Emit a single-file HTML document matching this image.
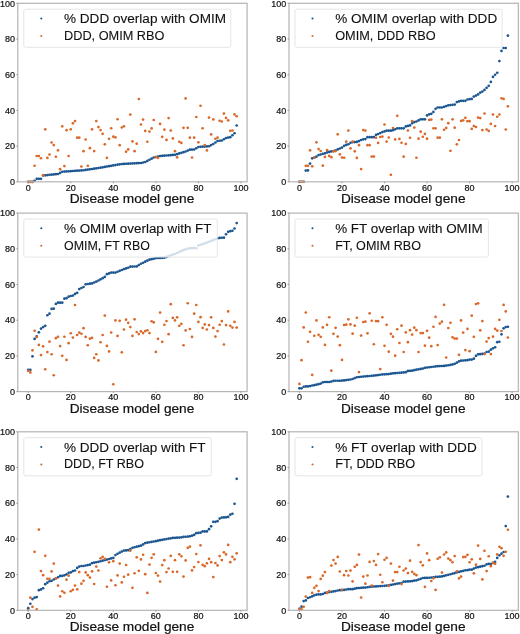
<!DOCTYPE html>
<html><head><meta charset="utf-8"><style>html,body{margin:0;padding:0;background:#fff;overflow:hidden}svg{display:block;filter:blur(0.25px)}</style></head><body>
<svg width="520" height="634" viewBox="0 0 520 634">
<rect width="520" height="634" fill="#fff"/>
<circle cx="28.22" cy="181.80" r="1.35" fill="#1b5690"/>
<circle cx="30.35" cy="181.80" r="1.35" fill="#1b5690"/>
<circle cx="32.48" cy="181.80" r="1.35" fill="#1b5690"/>
<circle cx="34.60" cy="180.75" r="1.35" fill="#1b5690"/>
<circle cx="36.73" cy="178.80" r="1.35" fill="#1b5690"/>
<circle cx="38.86" cy="178.80" r="1.35" fill="#1b5690"/>
<circle cx="40.99" cy="178.80" r="1.35" fill="#1b5690"/>
<circle cx="43.11" cy="175.50" r="1.35" fill="#1b5690"/>
<circle cx="45.24" cy="175.28" r="1.35" fill="#1b5690"/>
<circle cx="47.37" cy="175.07" r="1.35" fill="#1b5690"/>
<circle cx="49.49" cy="174.86" r="1.35" fill="#1b5690"/>
<circle cx="51.62" cy="174.64" r="1.35" fill="#1b5690"/>
<circle cx="53.75" cy="174.43" r="1.35" fill="#1b5690"/>
<circle cx="55.87" cy="174.21" r="1.35" fill="#1b5690"/>
<circle cx="58.00" cy="174.00" r="1.35" fill="#1b5690"/>
<circle cx="60.13" cy="172.88" r="1.35" fill="#1b5690"/>
<circle cx="62.26" cy="171.75" r="1.35" fill="#1b5690"/>
<circle cx="64.38" cy="171.61" r="1.35" fill="#1b5690"/>
<circle cx="66.51" cy="171.45" r="1.35" fill="#1b5690"/>
<circle cx="68.64" cy="171.30" r="1.35" fill="#1b5690"/>
<circle cx="70.76" cy="171.14" r="1.35" fill="#1b5690"/>
<circle cx="72.89" cy="171.00" r="1.35" fill="#1b5690"/>
<circle cx="75.02" cy="170.86" r="1.35" fill="#1b5690"/>
<circle cx="77.15" cy="170.70" r="1.35" fill="#1b5690"/>
<circle cx="79.27" cy="170.55" r="1.35" fill="#1b5690"/>
<circle cx="81.40" cy="170.39" r="1.35" fill="#1b5690"/>
<circle cx="83.53" cy="170.25" r="1.35" fill="#1b5690"/>
<circle cx="85.65" cy="169.93" r="1.35" fill="#1b5690"/>
<circle cx="87.78" cy="169.61" r="1.35" fill="#1b5690"/>
<circle cx="89.91" cy="169.29" r="1.35" fill="#1b5690"/>
<circle cx="92.04" cy="168.98" r="1.35" fill="#1b5690"/>
<circle cx="94.16" cy="168.66" r="1.35" fill="#1b5690"/>
<circle cx="96.29" cy="168.34" r="1.35" fill="#1b5690"/>
<circle cx="98.42" cy="168.02" r="1.35" fill="#1b5690"/>
<circle cx="100.54" cy="167.70" r="1.35" fill="#1b5690"/>
<circle cx="102.67" cy="167.31" r="1.35" fill="#1b5690"/>
<circle cx="104.80" cy="166.90" r="1.35" fill="#1b5690"/>
<circle cx="106.92" cy="166.50" r="1.35" fill="#1b5690"/>
<circle cx="109.05" cy="166.15" r="1.35" fill="#1b5690"/>
<circle cx="111.18" cy="165.79" r="1.35" fill="#1b5690"/>
<circle cx="113.31" cy="165.43" r="1.35" fill="#1b5690"/>
<circle cx="115.43" cy="165.07" r="1.35" fill="#1b5690"/>
<circle cx="117.56" cy="164.72" r="1.35" fill="#1b5690"/>
<circle cx="119.69" cy="164.36" r="1.35" fill="#1b5690"/>
<circle cx="121.81" cy="164.00" r="1.35" fill="#1b5690"/>
<circle cx="123.94" cy="163.90" r="1.35" fill="#1b5690"/>
<circle cx="126.07" cy="163.77" r="1.35" fill="#1b5690"/>
<circle cx="128.20" cy="163.66" r="1.35" fill="#1b5690"/>
<circle cx="130.32" cy="163.56" r="1.35" fill="#1b5690"/>
<circle cx="132.45" cy="163.45" r="1.35" fill="#1b5690"/>
<circle cx="134.58" cy="163.33" r="1.35" fill="#1b5690"/>
<circle cx="136.70" cy="163.22" r="1.35" fill="#1b5690"/>
<circle cx="138.83" cy="163.11" r="1.35" fill="#1b5690"/>
<circle cx="140.96" cy="163.00" r="1.35" fill="#1b5690"/>
<circle cx="143.09" cy="162.50" r="1.35" fill="#1b5690"/>
<circle cx="145.21" cy="162.00" r="1.35" fill="#1b5690"/>
<circle cx="147.34" cy="160.88" r="1.35" fill="#1b5690"/>
<circle cx="149.47" cy="159.76" r="1.35" fill="#1b5690"/>
<circle cx="151.59" cy="158.63" r="1.35" fill="#1b5690"/>
<circle cx="153.72" cy="157.51" r="1.35" fill="#1b5690"/>
<circle cx="155.85" cy="157.01" r="1.35" fill="#1b5690"/>
<circle cx="157.98" cy="156.51" r="1.35" fill="#1b5690"/>
<circle cx="160.10" cy="156.01" r="1.35" fill="#1b5690"/>
<circle cx="162.23" cy="155.83" r="1.35" fill="#1b5690"/>
<circle cx="164.36" cy="155.65" r="1.35" fill="#1b5690"/>
<circle cx="166.48" cy="155.49" r="1.35" fill="#1b5690"/>
<circle cx="168.61" cy="155.31" r="1.35" fill="#1b5690"/>
<circle cx="170.74" cy="155.15" r="1.35" fill="#1b5690"/>
<circle cx="172.86" cy="154.97" r="1.35" fill="#1b5690"/>
<circle cx="174.99" cy="154.79" r="1.35" fill="#1b5690"/>
<circle cx="177.12" cy="154.13" r="1.35" fill="#1b5690"/>
<circle cx="179.25" cy="153.47" r="1.35" fill="#1b5690"/>
<circle cx="181.37" cy="152.81" r="1.35" fill="#1b5690"/>
<circle cx="183.50" cy="152.15" r="1.35" fill="#1b5690"/>
<circle cx="185.63" cy="151.51" r="1.35" fill="#1b5690"/>
<circle cx="187.75" cy="150.60" r="1.35" fill="#1b5690"/>
<circle cx="189.88" cy="149.71" r="1.35" fill="#1b5690"/>
<circle cx="192.01" cy="149.60" r="1.35" fill="#1b5690"/>
<circle cx="194.14" cy="149.49" r="1.35" fill="#1b5690"/>
<circle cx="196.26" cy="148.24" r="1.35" fill="#1b5690"/>
<circle cx="198.39" cy="146.99" r="1.35" fill="#1b5690"/>
<circle cx="200.52" cy="146.85" r="1.35" fill="#1b5690"/>
<circle cx="202.64" cy="146.71" r="1.35" fill="#1b5690"/>
<circle cx="204.77" cy="146.55" r="1.35" fill="#1b5690"/>
<circle cx="206.90" cy="146.40" r="1.35" fill="#1b5690"/>
<circle cx="209.03" cy="146.24" r="1.35" fill="#1b5690"/>
<circle cx="211.15" cy="145.12" r="1.35" fill="#1b5690"/>
<circle cx="213.28" cy="143.99" r="1.35" fill="#1b5690"/>
<circle cx="215.41" cy="142.49" r="1.35" fill="#1b5690"/>
<circle cx="217.53" cy="140.99" r="1.35" fill="#1b5690"/>
<circle cx="219.66" cy="140.75" r="1.35" fill="#1b5690"/>
<circle cx="221.79" cy="140.50" r="1.35" fill="#1b5690"/>
<circle cx="223.91" cy="139.25" r="1.35" fill="#1b5690"/>
<circle cx="226.04" cy="138.00" r="1.35" fill="#1b5690"/>
<circle cx="228.17" cy="137.60" r="1.35" fill="#1b5690"/>
<circle cx="230.30" cy="137.19" r="1.35" fill="#1b5690"/>
<circle cx="232.42" cy="135.23" r="1.35" fill="#1b5690"/>
<circle cx="234.55" cy="133.25" r="1.35" fill="#1b5690"/>
<circle cx="236.68" cy="125.50" r="1.35" fill="#1b5690"/>
<circle cx="28.22" cy="181.80" r="1.35" fill="#d9692a"/>
<circle cx="30.35" cy="181.80" r="1.35" fill="#d9692a"/>
<circle cx="32.48" cy="181.80" r="1.35" fill="#d9692a"/>
<circle cx="34.60" cy="165.75" r="1.35" fill="#d9692a"/>
<circle cx="36.73" cy="156.01" r="1.35" fill="#d9692a"/>
<circle cx="38.86" cy="156.01" r="1.35" fill="#d9692a"/>
<circle cx="40.99" cy="158.26" r="1.35" fill="#d9692a"/>
<circle cx="43.11" cy="175.20" r="1.35" fill="#d9692a"/>
<circle cx="45.24" cy="129.30" r="1.35" fill="#d9692a"/>
<circle cx="47.37" cy="157.95" r="1.35" fill="#d9692a"/>
<circle cx="49.49" cy="154.51" r="1.35" fill="#d9692a"/>
<circle cx="51.62" cy="142.49" r="1.35" fill="#d9692a"/>
<circle cx="53.75" cy="145.05" r="1.35" fill="#d9692a"/>
<circle cx="55.87" cy="156.76" r="1.35" fill="#d9692a"/>
<circle cx="58.00" cy="150.29" r="1.35" fill="#d9692a"/>
<circle cx="60.13" cy="169.20" r="1.35" fill="#d9692a"/>
<circle cx="62.26" cy="126.30" r="1.35" fill="#d9692a"/>
<circle cx="64.38" cy="166.06" r="1.35" fill="#d9692a"/>
<circle cx="66.51" cy="130.20" r="1.35" fill="#d9692a"/>
<circle cx="68.64" cy="156.01" r="1.35" fill="#d9692a"/>
<circle cx="70.76" cy="129.30" r="1.35" fill="#d9692a"/>
<circle cx="72.89" cy="123.31" r="1.35" fill="#d9692a"/>
<circle cx="75.02" cy="121.06" r="1.35" fill="#d9692a"/>
<circle cx="77.15" cy="137.69" r="1.35" fill="#d9692a"/>
<circle cx="79.27" cy="137.69" r="1.35" fill="#d9692a"/>
<circle cx="81.40" cy="166.50" r="1.35" fill="#d9692a"/>
<circle cx="83.53" cy="151.21" r="1.35" fill="#d9692a"/>
<circle cx="85.65" cy="139.50" r="1.35" fill="#d9692a"/>
<circle cx="87.78" cy="165.75" r="1.35" fill="#d9692a"/>
<circle cx="89.91" cy="148.21" r="1.35" fill="#d9692a"/>
<circle cx="92.04" cy="129.30" r="1.35" fill="#d9692a"/>
<circle cx="94.16" cy="151.04" r="1.35" fill="#d9692a"/>
<circle cx="96.29" cy="121.06" r="1.35" fill="#d9692a"/>
<circle cx="98.42" cy="127.05" r="1.35" fill="#d9692a"/>
<circle cx="100.54" cy="130.05" r="1.35" fill="#d9692a"/>
<circle cx="102.67" cy="133.80" r="1.35" fill="#d9692a"/>
<circle cx="104.80" cy="144.30" r="1.35" fill="#d9692a"/>
<circle cx="106.92" cy="157.79" r="1.35" fill="#d9692a"/>
<circle cx="109.05" cy="138.75" r="1.35" fill="#d9692a"/>
<circle cx="111.18" cy="128.25" r="1.35" fill="#d9692a"/>
<circle cx="113.31" cy="136.66" r="1.35" fill="#d9692a"/>
<circle cx="115.43" cy="137.41" r="1.35" fill="#d9692a"/>
<circle cx="117.56" cy="119.25" r="1.35" fill="#d9692a"/>
<circle cx="119.69" cy="145.21" r="1.35" fill="#d9692a"/>
<circle cx="121.81" cy="127.50" r="1.35" fill="#d9692a"/>
<circle cx="123.94" cy="126.30" r="1.35" fill="#d9692a"/>
<circle cx="126.07" cy="151.65" r="1.35" fill="#d9692a"/>
<circle cx="128.20" cy="149.40" r="1.35" fill="#d9692a"/>
<circle cx="130.32" cy="114.59" r="1.35" fill="#d9692a"/>
<circle cx="132.45" cy="141.44" r="1.35" fill="#d9692a"/>
<circle cx="134.58" cy="151.21" r="1.35" fill="#d9692a"/>
<circle cx="136.70" cy="143.71" r="1.35" fill="#d9692a"/>
<circle cx="138.83" cy="98.99" r="1.35" fill="#d9692a"/>
<circle cx="140.96" cy="124.50" r="1.35" fill="#d9692a"/>
<circle cx="143.09" cy="119.56" r="1.35" fill="#d9692a"/>
<circle cx="145.21" cy="130.95" r="1.35" fill="#d9692a"/>
<circle cx="147.34" cy="141.74" r="1.35" fill="#d9692a"/>
<circle cx="149.47" cy="131.55" r="1.35" fill="#d9692a"/>
<circle cx="151.59" cy="128.39" r="1.35" fill="#d9692a"/>
<circle cx="153.72" cy="120.00" r="1.35" fill="#d9692a"/>
<circle cx="155.85" cy="157.04" r="1.35" fill="#d9692a"/>
<circle cx="157.98" cy="157.79" r="1.35" fill="#d9692a"/>
<circle cx="160.10" cy="123.89" r="1.35" fill="#d9692a"/>
<circle cx="162.23" cy="136.80" r="1.35" fill="#d9692a"/>
<circle cx="164.36" cy="129.61" r="1.35" fill="#d9692a"/>
<circle cx="166.48" cy="139.94" r="1.35" fill="#d9692a"/>
<circle cx="168.61" cy="118.06" r="1.35" fill="#d9692a"/>
<circle cx="170.74" cy="130.50" r="1.35" fill="#d9692a"/>
<circle cx="172.86" cy="138.44" r="1.35" fill="#d9692a"/>
<circle cx="174.99" cy="151.21" r="1.35" fill="#d9692a"/>
<circle cx="177.12" cy="157.35" r="1.35" fill="#d9692a"/>
<circle cx="179.25" cy="141.74" r="1.35" fill="#d9692a"/>
<circle cx="181.37" cy="142.96" r="1.35" fill="#d9692a"/>
<circle cx="183.50" cy="127.80" r="1.35" fill="#d9692a"/>
<circle cx="185.63" cy="98.40" r="1.35" fill="#d9692a"/>
<circle cx="187.75" cy="127.80" r="1.35" fill="#d9692a"/>
<circle cx="189.88" cy="137.69" r="1.35" fill="#d9692a"/>
<circle cx="192.01" cy="157.51" r="1.35" fill="#d9692a"/>
<circle cx="194.14" cy="137.69" r="1.35" fill="#d9692a"/>
<circle cx="196.26" cy="117.00" r="1.35" fill="#d9692a"/>
<circle cx="198.39" cy="142.35" r="1.35" fill="#d9692a"/>
<circle cx="200.52" cy="105.74" r="1.35" fill="#d9692a"/>
<circle cx="202.64" cy="128.25" r="1.35" fill="#d9692a"/>
<circle cx="204.77" cy="145.21" r="1.35" fill="#d9692a"/>
<circle cx="206.90" cy="150.46" r="1.35" fill="#d9692a"/>
<circle cx="209.03" cy="117.59" r="1.35" fill="#d9692a"/>
<circle cx="211.15" cy="134.41" r="1.35" fill="#d9692a"/>
<circle cx="213.28" cy="119.40" r="1.35" fill="#d9692a"/>
<circle cx="215.41" cy="138.75" r="1.35" fill="#d9692a"/>
<circle cx="217.53" cy="137.69" r="1.35" fill="#d9692a"/>
<circle cx="219.66" cy="120.75" r="1.35" fill="#d9692a"/>
<circle cx="221.79" cy="121.50" r="1.35" fill="#d9692a"/>
<circle cx="223.91" cy="113.54" r="1.35" fill="#d9692a"/>
<circle cx="226.04" cy="117.90" r="1.35" fill="#d9692a"/>
<circle cx="228.17" cy="120.31" r="1.35" fill="#d9692a"/>
<circle cx="230.30" cy="130.80" r="1.35" fill="#d9692a"/>
<circle cx="232.42" cy="130.50" r="1.35" fill="#d9692a"/>
<circle cx="234.55" cy="114.45" r="1.35" fill="#d9692a"/>
<circle cx="236.68" cy="116.25" r="1.35" fill="#d9692a"/>
<rect x="17.80" y="3.30" width="229.30" height="178.50" fill="none" stroke="#b4b4b4" stroke-width="1.2"/>
<line x1="16.30" y1="181.80" x2="17.80" y2="181.80" stroke="#888" stroke-width="0.8"/>
<text x="15.00" y="185.00" font-size="9" text-anchor="end" font-family="Liberation Sans, sans-serif" stroke="#111" stroke-width="0.2" fill="#111">0</text>
<line x1="16.30" y1="146.10" x2="17.80" y2="146.10" stroke="#888" stroke-width="0.8"/>
<text x="15.00" y="149.30" font-size="9" text-anchor="end" font-family="Liberation Sans, sans-serif" stroke="#111" stroke-width="0.2" fill="#111">20</text>
<line x1="16.30" y1="110.40" x2="17.80" y2="110.40" stroke="#888" stroke-width="0.8"/>
<text x="15.00" y="113.60" font-size="9" text-anchor="end" font-family="Liberation Sans, sans-serif" stroke="#111" stroke-width="0.2" fill="#111">40</text>
<line x1="16.30" y1="74.70" x2="17.80" y2="74.70" stroke="#888" stroke-width="0.8"/>
<text x="15.00" y="77.90" font-size="9" text-anchor="end" font-family="Liberation Sans, sans-serif" stroke="#111" stroke-width="0.2" fill="#111">60</text>
<line x1="16.30" y1="39.00" x2="17.80" y2="39.00" stroke="#888" stroke-width="0.8"/>
<text x="15.00" y="42.20" font-size="9" text-anchor="end" font-family="Liberation Sans, sans-serif" stroke="#111" stroke-width="0.2" fill="#111">80</text>
<line x1="16.30" y1="3.30" x2="17.80" y2="3.30" stroke="#888" stroke-width="0.8"/>
<text x="15.00" y="6.50" font-size="9" text-anchor="end" font-family="Liberation Sans, sans-serif" stroke="#111" stroke-width="0.2" fill="#111">100</text>
<line x1="28.22" y1="181.80" x2="28.22" y2="183.30" stroke="#888" stroke-width="0.8"/>
<text x="28.22" y="190.60" font-size="9" text-anchor="middle" font-family="Liberation Sans, sans-serif" stroke="#111" stroke-width="0.2" fill="#111">0</text>
<line x1="70.76" y1="181.80" x2="70.76" y2="183.30" stroke="#888" stroke-width="0.8"/>
<text x="70.76" y="190.60" font-size="9" text-anchor="middle" font-family="Liberation Sans, sans-serif" stroke="#111" stroke-width="0.2" fill="#111">20</text>
<line x1="113.31" y1="181.80" x2="113.31" y2="183.30" stroke="#888" stroke-width="0.8"/>
<text x="113.31" y="190.60" font-size="9" text-anchor="middle" font-family="Liberation Sans, sans-serif" stroke="#111" stroke-width="0.2" fill="#111">40</text>
<line x1="155.85" y1="181.80" x2="155.85" y2="183.30" stroke="#888" stroke-width="0.8"/>
<text x="155.85" y="190.60" font-size="9" text-anchor="middle" font-family="Liberation Sans, sans-serif" stroke="#111" stroke-width="0.2" fill="#111">60</text>
<line x1="198.39" y1="181.80" x2="198.39" y2="183.30" stroke="#888" stroke-width="0.8"/>
<text x="198.39" y="190.60" font-size="9" text-anchor="middle" font-family="Liberation Sans, sans-serif" stroke="#111" stroke-width="0.2" fill="#111">80</text>
<line x1="240.93" y1="181.80" x2="240.93" y2="183.30" stroke="#888" stroke-width="0.8"/>
<text x="240.93" y="190.60" font-size="9" text-anchor="middle" font-family="Liberation Sans, sans-serif" stroke="#111" stroke-width="0.2" fill="#111">100</text>
<text x="69.70" y="202.70" font-size="12.8" font-family="Liberation Sans, sans-serif" stroke="#111" stroke-width="0.2" fill="#111" textLength="124.6" lengthAdjust="spacingAndGlyphs">Disease model gene</text>
<rect x="23.80" y="9.20" width="207.00" height="38.10" rx="2" fill="#fff" fill-opacity="0.8" stroke="#e2e2e2" stroke-width="0.9"/>
<circle cx="41.30" cy="18.50" r="1.05" fill="#1b5690"/>
<circle cx="41.30" cy="36.00" r="1.05" fill="#d9692a"/>
<text x="64.00" y="23.00" font-size="12.3" font-family="Liberation Sans, sans-serif" stroke="#111" stroke-width="0.1" fill="#111" textLength="162.0" lengthAdjust="spacingAndGlyphs">% DDD overlap with OMIM</text>
<text x="64.00" y="39.90" font-size="12.3" font-family="Liberation Sans, sans-serif" stroke="#111" stroke-width="0.1" fill="#111" textLength="100.4" lengthAdjust="spacingAndGlyphs">DDD, OMIM RBO</text>
<circle cx="299.42" cy="181.75" r="1.35" fill="#1b5690"/>
<circle cx="301.55" cy="181.75" r="1.35" fill="#1b5690"/>
<circle cx="303.68" cy="181.75" r="1.35" fill="#1b5690"/>
<circle cx="305.80" cy="170.57" r="1.35" fill="#1b5690"/>
<circle cx="307.93" cy="170.39" r="1.35" fill="#1b5690"/>
<circle cx="310.06" cy="163.58" r="1.35" fill="#1b5690"/>
<circle cx="312.19" cy="158.29" r="1.35" fill="#1b5690"/>
<circle cx="314.31" cy="157.63" r="1.35" fill="#1b5690"/>
<circle cx="316.44" cy="156.69" r="1.35" fill="#1b5690"/>
<circle cx="318.57" cy="155.08" r="1.35" fill="#1b5690"/>
<circle cx="320.69" cy="154.51" r="1.35" fill="#1b5690"/>
<circle cx="322.82" cy="153.85" r="1.35" fill="#1b5690"/>
<circle cx="324.95" cy="153.36" r="1.35" fill="#1b5690"/>
<circle cx="327.07" cy="152.42" r="1.35" fill="#1b5690"/>
<circle cx="329.20" cy="151.95" r="1.35" fill="#1b5690"/>
<circle cx="331.33" cy="151.47" r="1.35" fill="#1b5690"/>
<circle cx="333.46" cy="151.10" r="1.35" fill="#1b5690"/>
<circle cx="335.58" cy="150.28" r="1.35" fill="#1b5690"/>
<circle cx="337.71" cy="149.44" r="1.35" fill="#1b5690"/>
<circle cx="339.84" cy="148.49" r="1.35" fill="#1b5690"/>
<circle cx="341.96" cy="147.55" r="1.35" fill="#1b5690"/>
<circle cx="344.09" cy="145.85" r="1.35" fill="#1b5690"/>
<circle cx="346.22" cy="144.90" r="1.35" fill="#1b5690"/>
<circle cx="348.35" cy="144.24" r="1.35" fill="#1b5690"/>
<circle cx="350.47" cy="142.83" r="1.35" fill="#1b5690"/>
<circle cx="352.60" cy="142.16" r="1.35" fill="#1b5690"/>
<circle cx="354.73" cy="142.07" r="1.35" fill="#1b5690"/>
<circle cx="356.85" cy="141.89" r="1.35" fill="#1b5690"/>
<circle cx="358.98" cy="141.12" r="1.35" fill="#1b5690"/>
<circle cx="361.11" cy="140.00" r="1.35" fill="#1b5690"/>
<circle cx="363.24" cy="139.33" r="1.35" fill="#1b5690"/>
<circle cx="365.36" cy="139.05" r="1.35" fill="#1b5690"/>
<circle cx="367.49" cy="137.16" r="1.35" fill="#1b5690"/>
<circle cx="369.62" cy="137.16" r="1.35" fill="#1b5690"/>
<circle cx="371.74" cy="137.16" r="1.35" fill="#1b5690"/>
<circle cx="373.87" cy="137.16" r="1.35" fill="#1b5690"/>
<circle cx="376.00" cy="134.93" r="1.35" fill="#1b5690"/>
<circle cx="378.12" cy="133.98" r="1.35" fill="#1b5690"/>
<circle cx="380.25" cy="133.03" r="1.35" fill="#1b5690"/>
<circle cx="382.38" cy="132.09" r="1.35" fill="#1b5690"/>
<circle cx="384.51" cy="131.43" r="1.35" fill="#1b5690"/>
<circle cx="386.63" cy="130.66" r="1.35" fill="#1b5690"/>
<circle cx="388.76" cy="130.66" r="1.35" fill="#1b5690"/>
<circle cx="390.89" cy="130.66" r="1.35" fill="#1b5690"/>
<circle cx="393.01" cy="130.20" r="1.35" fill="#1b5690"/>
<circle cx="395.14" cy="129.25" r="1.35" fill="#1b5690"/>
<circle cx="397.27" cy="128.30" r="1.35" fill="#1b5690"/>
<circle cx="399.40" cy="128.30" r="1.35" fill="#1b5690"/>
<circle cx="401.52" cy="128.30" r="1.35" fill="#1b5690"/>
<circle cx="403.65" cy="128.30" r="1.35" fill="#1b5690"/>
<circle cx="405.78" cy="126.41" r="1.35" fill="#1b5690"/>
<circle cx="407.90" cy="125.93" r="1.35" fill="#1b5690"/>
<circle cx="410.03" cy="125.47" r="1.35" fill="#1b5690"/>
<circle cx="412.16" cy="123.14" r="1.35" fill="#1b5690"/>
<circle cx="414.29" cy="122.07" r="1.35" fill="#1b5690"/>
<circle cx="416.41" cy="121.52" r="1.35" fill="#1b5690"/>
<circle cx="418.54" cy="120.41" r="1.35" fill="#1b5690"/>
<circle cx="420.67" cy="119.31" r="1.35" fill="#1b5690"/>
<circle cx="422.79" cy="119.31" r="1.35" fill="#1b5690"/>
<circle cx="424.92" cy="119.31" r="1.35" fill="#1b5690"/>
<circle cx="427.05" cy="115.43" r="1.35" fill="#1b5690"/>
<circle cx="429.18" cy="114.34" r="1.35" fill="#1b5690"/>
<circle cx="431.30" cy="113.79" r="1.35" fill="#1b5690"/>
<circle cx="433.43" cy="111.90" r="1.35" fill="#1b5690"/>
<circle cx="435.56" cy="108.81" r="1.35" fill="#1b5690"/>
<circle cx="437.68" cy="107.49" r="1.35" fill="#1b5690"/>
<circle cx="439.81" cy="107.49" r="1.35" fill="#1b5690"/>
<circle cx="441.94" cy="107.49" r="1.35" fill="#1b5690"/>
<circle cx="444.06" cy="106.78" r="1.35" fill="#1b5690"/>
<circle cx="446.19" cy="106.04" r="1.35" fill="#1b5690"/>
<circle cx="448.32" cy="105.28" r="1.35" fill="#1b5690"/>
<circle cx="450.45" cy="105.10" r="1.35" fill="#1b5690"/>
<circle cx="452.57" cy="104.83" r="1.35" fill="#1b5690"/>
<circle cx="454.70" cy="104.56" r="1.35" fill="#1b5690"/>
<circle cx="456.83" cy="102.03" r="1.35" fill="#1b5690"/>
<circle cx="458.95" cy="101.40" r="1.35" fill="#1b5690"/>
<circle cx="461.08" cy="100.78" r="1.35" fill="#1b5690"/>
<circle cx="463.21" cy="100.78" r="1.35" fill="#1b5690"/>
<circle cx="465.34" cy="100.78" r="1.35" fill="#1b5690"/>
<circle cx="467.46" cy="99.51" r="1.35" fill="#1b5690"/>
<circle cx="469.59" cy="99.19" r="1.35" fill="#1b5690"/>
<circle cx="471.72" cy="98.89" r="1.35" fill="#1b5690"/>
<circle cx="473.84" cy="96.60" r="1.35" fill="#1b5690"/>
<circle cx="475.97" cy="95.53" r="1.35" fill="#1b5690"/>
<circle cx="478.10" cy="94.46" r="1.35" fill="#1b5690"/>
<circle cx="480.23" cy="92.57" r="1.35" fill="#1b5690"/>
<circle cx="482.35" cy="91.53" r="1.35" fill="#1b5690"/>
<circle cx="484.48" cy="89.89" r="1.35" fill="#1b5690"/>
<circle cx="486.61" cy="87.84" r="1.35" fill="#1b5690"/>
<circle cx="488.73" cy="85.80" r="1.35" fill="#1b5690"/>
<circle cx="490.86" cy="81.89" r="1.35" fill="#1b5690"/>
<circle cx="492.99" cy="76.97" r="1.35" fill="#1b5690"/>
<circle cx="495.11" cy="74.75" r="1.35" fill="#1b5690"/>
<circle cx="497.24" cy="72.77" r="1.35" fill="#1b5690"/>
<circle cx="499.37" cy="61.03" r="1.35" fill="#1b5690"/>
<circle cx="501.50" cy="50.92" r="1.35" fill="#1b5690"/>
<circle cx="503.62" cy="48.00" r="1.35" fill="#1b5690"/>
<circle cx="505.75" cy="48.00" r="1.35" fill="#1b5690"/>
<circle cx="507.88" cy="35.68" r="1.35" fill="#1b5690"/>
<circle cx="299.42" cy="181.75" r="1.35" fill="#d9692a"/>
<circle cx="301.55" cy="181.75" r="1.35" fill="#d9692a"/>
<circle cx="303.68" cy="181.75" r="1.35" fill="#d9692a"/>
<circle cx="305.80" cy="165.86" r="1.35" fill="#d9692a"/>
<circle cx="307.93" cy="165.86" r="1.35" fill="#d9692a"/>
<circle cx="310.06" cy="150.35" r="1.35" fill="#d9692a"/>
<circle cx="312.19" cy="166.32" r="1.35" fill="#d9692a"/>
<circle cx="314.31" cy="157.63" r="1.35" fill="#d9692a"/>
<circle cx="316.44" cy="142.30" r="1.35" fill="#d9692a"/>
<circle cx="318.57" cy="149.12" r="1.35" fill="#d9692a"/>
<circle cx="320.69" cy="151.01" r="1.35" fill="#d9692a"/>
<circle cx="322.82" cy="165.66" r="1.35" fill="#d9692a"/>
<circle cx="324.95" cy="156.97" r="1.35" fill="#d9692a"/>
<circle cx="327.07" cy="150.06" r="1.35" fill="#d9692a"/>
<circle cx="329.20" cy="155.92" r="1.35" fill="#d9692a"/>
<circle cx="331.33" cy="157.15" r="1.35" fill="#d9692a"/>
<circle cx="333.46" cy="151.29" r="1.35" fill="#d9692a"/>
<circle cx="335.58" cy="151.04" r="1.35" fill="#d9692a"/>
<circle cx="337.71" cy="134.32" r="1.35" fill="#d9692a"/>
<circle cx="339.84" cy="154.36" r="1.35" fill="#d9692a"/>
<circle cx="341.96" cy="157.49" r="1.35" fill="#d9692a"/>
<circle cx="344.09" cy="157.77" r="1.35" fill="#d9692a"/>
<circle cx="346.22" cy="141.69" r="1.35" fill="#d9692a"/>
<circle cx="348.35" cy="130.53" r="1.35" fill="#d9692a"/>
<circle cx="350.47" cy="148.31" r="1.35" fill="#d9692a"/>
<circle cx="352.60" cy="141.69" r="1.35" fill="#d9692a"/>
<circle cx="354.73" cy="151.33" r="1.35" fill="#d9692a"/>
<circle cx="356.85" cy="157.95" r="1.35" fill="#d9692a"/>
<circle cx="358.98" cy="145.19" r="1.35" fill="#d9692a"/>
<circle cx="361.11" cy="169.07" r="1.35" fill="#d9692a"/>
<circle cx="363.24" cy="130.05" r="1.35" fill="#d9692a"/>
<circle cx="365.36" cy="130.53" r="1.35" fill="#d9692a"/>
<circle cx="367.49" cy="145.19" r="1.35" fill="#d9692a"/>
<circle cx="369.62" cy="145.19" r="1.35" fill="#d9692a"/>
<circle cx="371.74" cy="156.54" r="1.35" fill="#d9692a"/>
<circle cx="373.87" cy="156.54" r="1.35" fill="#d9692a"/>
<circle cx="376.00" cy="137.75" r="1.35" fill="#d9692a"/>
<circle cx="378.12" cy="142.96" r="1.35" fill="#d9692a"/>
<circle cx="380.25" cy="137.00" r="1.35" fill="#d9692a"/>
<circle cx="382.38" cy="136.62" r="1.35" fill="#d9692a"/>
<circle cx="384.51" cy="124.52" r="1.35" fill="#d9692a"/>
<circle cx="386.63" cy="141.53" r="1.35" fill="#d9692a"/>
<circle cx="388.76" cy="137.48" r="1.35" fill="#d9692a"/>
<circle cx="390.89" cy="174.78" r="1.35" fill="#d9692a"/>
<circle cx="393.01" cy="128.02" r="1.35" fill="#d9692a"/>
<circle cx="395.14" cy="139.46" r="1.35" fill="#d9692a"/>
<circle cx="397.27" cy="115.81" r="1.35" fill="#d9692a"/>
<circle cx="399.40" cy="138.89" r="1.35" fill="#d9692a"/>
<circle cx="401.52" cy="142.76" r="1.35" fill="#d9692a"/>
<circle cx="403.65" cy="156.65" r="1.35" fill="#d9692a"/>
<circle cx="405.78" cy="143.90" r="1.35" fill="#d9692a"/>
<circle cx="407.90" cy="130.48" r="1.35" fill="#d9692a"/>
<circle cx="410.03" cy="137.75" r="1.35" fill="#d9692a"/>
<circle cx="412.16" cy="121.20" r="1.35" fill="#d9692a"/>
<circle cx="414.29" cy="127.59" r="1.35" fill="#d9692a"/>
<circle cx="416.41" cy="157.76" r="1.35" fill="#d9692a"/>
<circle cx="418.54" cy="138.64" r="1.35" fill="#d9692a"/>
<circle cx="420.67" cy="131.68" r="1.35" fill="#d9692a"/>
<circle cx="422.79" cy="136.76" r="1.35" fill="#d9692a"/>
<circle cx="424.92" cy="133.89" r="1.35" fill="#d9692a"/>
<circle cx="427.05" cy="138.64" r="1.35" fill="#d9692a"/>
<circle cx="429.18" cy="119.97" r="1.35" fill="#d9692a"/>
<circle cx="431.30" cy="119.54" r="1.35" fill="#d9692a"/>
<circle cx="433.43" cy="128.37" r="1.35" fill="#d9692a"/>
<circle cx="435.56" cy="128.37" r="1.35" fill="#d9692a"/>
<circle cx="437.68" cy="137.66" r="1.35" fill="#d9692a"/>
<circle cx="439.81" cy="137.66" r="1.35" fill="#d9692a"/>
<circle cx="441.94" cy="119.31" r="1.35" fill="#d9692a"/>
<circle cx="444.06" cy="129.80" r="1.35" fill="#d9692a"/>
<circle cx="446.19" cy="127.93" r="1.35" fill="#d9692a"/>
<circle cx="448.32" cy="123.18" r="1.35" fill="#d9692a"/>
<circle cx="450.45" cy="150.79" r="1.35" fill="#d9692a"/>
<circle cx="452.57" cy="119.33" r="1.35" fill="#d9692a"/>
<circle cx="454.70" cy="127.64" r="1.35" fill="#d9692a"/>
<circle cx="456.83" cy="144.30" r="1.35" fill="#d9692a"/>
<circle cx="458.95" cy="140.01" r="1.35" fill="#d9692a"/>
<circle cx="461.08" cy="120.97" r="1.35" fill="#d9692a"/>
<circle cx="463.21" cy="120.32" r="1.35" fill="#d9692a"/>
<circle cx="465.34" cy="117.81" r="1.35" fill="#d9692a"/>
<circle cx="467.46" cy="121.22" r="1.35" fill="#d9692a"/>
<circle cx="469.59" cy="121.22" r="1.35" fill="#d9692a"/>
<circle cx="471.72" cy="128.91" r="1.35" fill="#d9692a"/>
<circle cx="473.84" cy="126.00" r="1.35" fill="#d9692a"/>
<circle cx="475.97" cy="127.02" r="1.35" fill="#d9692a"/>
<circle cx="478.10" cy="117.56" r="1.35" fill="#d9692a"/>
<circle cx="480.23" cy="118.06" r="1.35" fill="#d9692a"/>
<circle cx="482.35" cy="130.11" r="1.35" fill="#d9692a"/>
<circle cx="484.48" cy="113.49" r="1.35" fill="#d9692a"/>
<circle cx="486.61" cy="129.48" r="1.35" fill="#d9692a"/>
<circle cx="488.73" cy="130.93" r="1.35" fill="#d9692a"/>
<circle cx="490.86" cy="123.95" r="1.35" fill="#d9692a"/>
<circle cx="492.99" cy="114.51" r="1.35" fill="#d9692a"/>
<circle cx="495.11" cy="126.00" r="1.35" fill="#d9692a"/>
<circle cx="497.24" cy="116.77" r="1.35" fill="#d9692a"/>
<circle cx="499.37" cy="114.51" r="1.35" fill="#d9692a"/>
<circle cx="501.50" cy="98.32" r="1.35" fill="#d9692a"/>
<circle cx="503.62" cy="98.92" r="1.35" fill="#d9692a"/>
<circle cx="505.75" cy="129.48" r="1.35" fill="#d9692a"/>
<circle cx="507.88" cy="106.31" r="1.35" fill="#d9692a"/>
<rect x="289.00" y="3.30" width="229.30" height="178.50" fill="none" stroke="#b4b4b4" stroke-width="1.2"/>
<line x1="287.50" y1="181.80" x2="289.00" y2="181.80" stroke="#888" stroke-width="0.8"/>
<text x="286.20" y="185.00" font-size="9" text-anchor="end" font-family="Liberation Sans, sans-serif" stroke="#111" stroke-width="0.2" fill="#111">0</text>
<line x1="287.50" y1="146.10" x2="289.00" y2="146.10" stroke="#888" stroke-width="0.8"/>
<text x="286.20" y="149.30" font-size="9" text-anchor="end" font-family="Liberation Sans, sans-serif" stroke="#111" stroke-width="0.2" fill="#111">20</text>
<line x1="287.50" y1="110.40" x2="289.00" y2="110.40" stroke="#888" stroke-width="0.8"/>
<text x="286.20" y="113.60" font-size="9" text-anchor="end" font-family="Liberation Sans, sans-serif" stroke="#111" stroke-width="0.2" fill="#111">40</text>
<line x1="287.50" y1="74.70" x2="289.00" y2="74.70" stroke="#888" stroke-width="0.8"/>
<text x="286.20" y="77.90" font-size="9" text-anchor="end" font-family="Liberation Sans, sans-serif" stroke="#111" stroke-width="0.2" fill="#111">60</text>
<line x1="287.50" y1="39.00" x2="289.00" y2="39.00" stroke="#888" stroke-width="0.8"/>
<text x="286.20" y="42.20" font-size="9" text-anchor="end" font-family="Liberation Sans, sans-serif" stroke="#111" stroke-width="0.2" fill="#111">80</text>
<line x1="287.50" y1="3.30" x2="289.00" y2="3.30" stroke="#888" stroke-width="0.8"/>
<text x="286.20" y="6.50" font-size="9" text-anchor="end" font-family="Liberation Sans, sans-serif" stroke="#111" stroke-width="0.2" fill="#111">100</text>
<line x1="299.42" y1="181.80" x2="299.42" y2="183.30" stroke="#888" stroke-width="0.8"/>
<text x="299.42" y="190.60" font-size="9" text-anchor="middle" font-family="Liberation Sans, sans-serif" stroke="#111" stroke-width="0.2" fill="#111">0</text>
<line x1="341.96" y1="181.80" x2="341.96" y2="183.30" stroke="#888" stroke-width="0.8"/>
<text x="341.96" y="190.60" font-size="9" text-anchor="middle" font-family="Liberation Sans, sans-serif" stroke="#111" stroke-width="0.2" fill="#111">20</text>
<line x1="384.51" y1="181.80" x2="384.51" y2="183.30" stroke="#888" stroke-width="0.8"/>
<text x="384.51" y="190.60" font-size="9" text-anchor="middle" font-family="Liberation Sans, sans-serif" stroke="#111" stroke-width="0.2" fill="#111">40</text>
<line x1="427.05" y1="181.80" x2="427.05" y2="183.30" stroke="#888" stroke-width="0.8"/>
<text x="427.05" y="190.60" font-size="9" text-anchor="middle" font-family="Liberation Sans, sans-serif" stroke="#111" stroke-width="0.2" fill="#111">60</text>
<line x1="469.59" y1="181.80" x2="469.59" y2="183.30" stroke="#888" stroke-width="0.8"/>
<text x="469.59" y="190.60" font-size="9" text-anchor="middle" font-family="Liberation Sans, sans-serif" stroke="#111" stroke-width="0.2" fill="#111">80</text>
<line x1="512.13" y1="181.80" x2="512.13" y2="183.30" stroke="#888" stroke-width="0.8"/>
<text x="512.13" y="190.60" font-size="9" text-anchor="middle" font-family="Liberation Sans, sans-serif" stroke="#111" stroke-width="0.2" fill="#111">100</text>
<text x="340.90" y="202.70" font-size="12.8" font-family="Liberation Sans, sans-serif" stroke="#111" stroke-width="0.2" fill="#111" textLength="124.6" lengthAdjust="spacingAndGlyphs">Disease model gene</text>
<rect x="295.00" y="9.20" width="207.10" height="38.10" rx="2" fill="#fff" fill-opacity="0.8" stroke="#e2e2e2" stroke-width="0.9"/>
<circle cx="312.50" cy="18.50" r="1.05" fill="#1b5690"/>
<circle cx="312.50" cy="36.00" r="1.05" fill="#d9692a"/>
<text x="335.20" y="23.00" font-size="12.3" font-family="Liberation Sans, sans-serif" stroke="#111" stroke-width="0.1" fill="#111" textLength="162.0" lengthAdjust="spacingAndGlyphs">% OMIM overlap with DDD</text>
<text x="335.20" y="39.90" font-size="12.3" font-family="Liberation Sans, sans-serif" stroke="#111" stroke-width="0.1" fill="#111" textLength="100.4" lengthAdjust="spacingAndGlyphs">OMIM, DDD RBO</text>
<circle cx="28.22" cy="369.73" r="1.35" fill="#1b5690"/>
<circle cx="30.35" cy="369.73" r="1.35" fill="#1b5690"/>
<circle cx="32.48" cy="356.31" r="1.35" fill="#1b5690"/>
<circle cx="34.60" cy="338.94" r="1.35" fill="#1b5690"/>
<circle cx="36.73" cy="336.43" r="1.35" fill="#1b5690"/>
<circle cx="38.86" cy="332.32" r="1.35" fill="#1b5690"/>
<circle cx="40.99" cy="328.68" r="1.35" fill="#1b5690"/>
<circle cx="43.11" cy="327.11" r="1.35" fill="#1b5690"/>
<circle cx="45.24" cy="325.84" r="1.35" fill="#1b5690"/>
<circle cx="47.37" cy="315.26" r="1.35" fill="#1b5690"/>
<circle cx="49.49" cy="313.68" r="1.35" fill="#1b5690"/>
<circle cx="51.62" cy="308.95" r="1.35" fill="#1b5690"/>
<circle cx="53.75" cy="308.63" r="1.35" fill="#1b5690"/>
<circle cx="55.87" cy="303.90" r="1.35" fill="#1b5690"/>
<circle cx="58.00" cy="302.64" r="1.35" fill="#1b5690"/>
<circle cx="60.13" cy="302.64" r="1.35" fill="#1b5690"/>
<circle cx="62.26" cy="302.64" r="1.35" fill="#1b5690"/>
<circle cx="64.38" cy="298.69" r="1.35" fill="#1b5690"/>
<circle cx="66.51" cy="298.21" r="1.35" fill="#1b5690"/>
<circle cx="68.64" cy="296.64" r="1.35" fill="#1b5690"/>
<circle cx="70.76" cy="296.00" r="1.35" fill="#1b5690"/>
<circle cx="72.89" cy="295.53" r="1.35" fill="#1b5690"/>
<circle cx="75.02" cy="293.94" r="1.35" fill="#1b5690"/>
<circle cx="77.15" cy="292.84" r="1.35" fill="#1b5690"/>
<circle cx="79.27" cy="289.03" r="1.35" fill="#1b5690"/>
<circle cx="81.40" cy="288.02" r="1.35" fill="#1b5690"/>
<circle cx="83.53" cy="287.02" r="1.35" fill="#1b5690"/>
<circle cx="85.65" cy="284.32" r="1.35" fill="#1b5690"/>
<circle cx="87.78" cy="284.00" r="1.35" fill="#1b5690"/>
<circle cx="89.91" cy="283.70" r="1.35" fill="#1b5690"/>
<circle cx="92.04" cy="283.38" r="1.35" fill="#1b5690"/>
<circle cx="94.16" cy="282.50" r="1.35" fill="#1b5690"/>
<circle cx="96.29" cy="281.63" r="1.35" fill="#1b5690"/>
<circle cx="98.42" cy="280.48" r="1.35" fill="#1b5690"/>
<circle cx="100.54" cy="279.34" r="1.35" fill="#1b5690"/>
<circle cx="102.67" cy="278.13" r="1.35" fill="#1b5690"/>
<circle cx="104.80" cy="276.91" r="1.35" fill="#1b5690"/>
<circle cx="106.92" cy="274.22" r="1.35" fill="#1b5690"/>
<circle cx="109.05" cy="273.42" r="1.35" fill="#1b5690"/>
<circle cx="111.18" cy="272.61" r="1.35" fill="#1b5690"/>
<circle cx="113.31" cy="272.61" r="1.35" fill="#1b5690"/>
<circle cx="115.43" cy="272.61" r="1.35" fill="#1b5690"/>
<circle cx="117.56" cy="271.74" r="1.35" fill="#1b5690"/>
<circle cx="119.69" cy="270.86" r="1.35" fill="#1b5690"/>
<circle cx="121.81" cy="269.99" r="1.35" fill="#1b5690"/>
<circle cx="123.94" cy="269.11" r="1.35" fill="#1b5690"/>
<circle cx="126.07" cy="268.44" r="1.35" fill="#1b5690"/>
<circle cx="128.20" cy="267.77" r="1.35" fill="#1b5690"/>
<circle cx="130.32" cy="266.63" r="1.35" fill="#1b5690"/>
<circle cx="132.45" cy="266.56" r="1.35" fill="#1b5690"/>
<circle cx="134.58" cy="266.51" r="1.35" fill="#1b5690"/>
<circle cx="136.70" cy="266.44" r="1.35" fill="#1b5690"/>
<circle cx="138.83" cy="265.08" r="1.35" fill="#1b5690"/>
<circle cx="140.96" cy="263.74" r="1.35" fill="#1b5690"/>
<circle cx="143.09" cy="262.74" r="1.35" fill="#1b5690"/>
<circle cx="145.21" cy="261.72" r="1.35" fill="#1b5690"/>
<circle cx="147.34" cy="260.71" r="1.35" fill="#1b5690"/>
<circle cx="149.47" cy="259.71" r="1.35" fill="#1b5690"/>
<circle cx="151.59" cy="259.17" r="1.35" fill="#1b5690"/>
<circle cx="153.72" cy="258.64" r="1.35" fill="#1b5690"/>
<circle cx="155.85" cy="258.08" r="1.35" fill="#1b5690"/>
<circle cx="157.98" cy="257.99" r="1.35" fill="#1b5690"/>
<circle cx="160.10" cy="257.89" r="1.35" fill="#1b5690"/>
<circle cx="162.23" cy="257.78" r="1.35" fill="#1b5690"/>
<circle cx="164.36" cy="257.69" r="1.35" fill="#1b5690"/>
<circle cx="166.48" cy="256.89" r="1.35" fill="#1b5690"/>
<circle cx="168.61" cy="256.06" r="1.35" fill="#1b5690"/>
<circle cx="170.74" cy="255.30" r="1.35" fill="#1b5690"/>
<circle cx="172.86" cy="254.53" r="1.35" fill="#1b5690"/>
<circle cx="174.99" cy="253.74" r="1.35" fill="#1b5690"/>
<circle cx="177.12" cy="252.98" r="1.35" fill="#1b5690"/>
<circle cx="179.25" cy="251.96" r="1.35" fill="#1b5690"/>
<circle cx="181.37" cy="250.96" r="1.35" fill="#1b5690"/>
<circle cx="183.50" cy="250.16" r="1.35" fill="#1b5690"/>
<circle cx="185.63" cy="249.34" r="1.35" fill="#1b5690"/>
<circle cx="187.75" cy="248.53" r="1.35" fill="#1b5690"/>
<circle cx="189.88" cy="248.35" r="1.35" fill="#1b5690"/>
<circle cx="192.01" cy="248.18" r="1.35" fill="#1b5690"/>
<circle cx="194.14" cy="248.00" r="1.35" fill="#1b5690"/>
<circle cx="196.26" cy="248.26" r="1.35" fill="#1b5690"/>
<circle cx="198.39" cy="245.57" r="1.35" fill="#1b5690"/>
<circle cx="200.52" cy="244.84" r="1.35" fill="#1b5690"/>
<circle cx="202.64" cy="244.09" r="1.35" fill="#1b5690"/>
<circle cx="204.77" cy="243.36" r="1.35" fill="#1b5690"/>
<circle cx="206.90" cy="242.61" r="1.35" fill="#1b5690"/>
<circle cx="209.03" cy="241.77" r="1.35" fill="#1b5690"/>
<circle cx="211.15" cy="240.93" r="1.35" fill="#1b5690"/>
<circle cx="213.28" cy="240.09" r="1.35" fill="#1b5690"/>
<circle cx="215.41" cy="239.25" r="1.35" fill="#1b5690"/>
<circle cx="217.53" cy="238.30" r="1.35" fill="#1b5690"/>
<circle cx="219.66" cy="237.89" r="1.35" fill="#1b5690"/>
<circle cx="221.79" cy="237.77" r="1.35" fill="#1b5690"/>
<circle cx="223.91" cy="237.63" r="1.35" fill="#1b5690"/>
<circle cx="226.04" cy="234.27" r="1.35" fill="#1b5690"/>
<circle cx="228.17" cy="231.84" r="1.35" fill="#1b5690"/>
<circle cx="230.30" cy="231.16" r="1.35" fill="#1b5690"/>
<circle cx="232.42" cy="230.77" r="1.35" fill="#1b5690"/>
<circle cx="234.55" cy="228.49" r="1.35" fill="#1b5690"/>
<circle cx="236.68" cy="223.10" r="1.35" fill="#1b5690"/>
<circle cx="28.22" cy="370.84" r="1.35" fill="#d9692a"/>
<circle cx="30.35" cy="372.43" r="1.35" fill="#d9692a"/>
<circle cx="32.48" cy="350.31" r="1.35" fill="#d9692a"/>
<circle cx="34.60" cy="330.73" r="1.35" fill="#d9692a"/>
<circle cx="36.73" cy="337.05" r="1.35" fill="#d9692a"/>
<circle cx="38.86" cy="344.94" r="1.35" fill="#d9692a"/>
<circle cx="40.99" cy="355.06" r="1.35" fill="#d9692a"/>
<circle cx="43.11" cy="346.37" r="1.35" fill="#d9692a"/>
<circle cx="45.24" cy="369.27" r="1.35" fill="#d9692a"/>
<circle cx="47.37" cy="352.04" r="1.35" fill="#d9692a"/>
<circle cx="49.49" cy="341.64" r="1.35" fill="#d9692a"/>
<circle cx="51.62" cy="354.26" r="1.35" fill="#d9692a"/>
<circle cx="53.75" cy="375.27" r="1.35" fill="#d9692a"/>
<circle cx="55.87" cy="338.16" r="1.35" fill="#d9692a"/>
<circle cx="58.00" cy="336.73" r="1.35" fill="#d9692a"/>
<circle cx="60.13" cy="346.05" r="1.35" fill="#d9692a"/>
<circle cx="62.26" cy="355.85" r="1.35" fill="#d9692a"/>
<circle cx="64.38" cy="336.73" r="1.35" fill="#d9692a"/>
<circle cx="66.51" cy="359.95" r="1.35" fill="#d9692a"/>
<circle cx="68.64" cy="343.21" r="1.35" fill="#d9692a"/>
<circle cx="70.76" cy="333.27" r="1.35" fill="#d9692a"/>
<circle cx="72.89" cy="337.53" r="1.35" fill="#d9692a"/>
<circle cx="75.02" cy="304.99" r="1.35" fill="#d9692a"/>
<circle cx="77.15" cy="335.00" r="1.35" fill="#d9692a"/>
<circle cx="79.27" cy="332.62" r="1.35" fill="#d9692a"/>
<circle cx="81.40" cy="333.73" r="1.35" fill="#d9692a"/>
<circle cx="83.53" cy="328.21" r="1.35" fill="#d9692a"/>
<circle cx="85.65" cy="336.89" r="1.35" fill="#d9692a"/>
<circle cx="87.78" cy="345.26" r="1.35" fill="#d9692a"/>
<circle cx="89.91" cy="338.64" r="1.35" fill="#d9692a"/>
<circle cx="92.04" cy="337.84" r="1.35" fill="#d9692a"/>
<circle cx="94.16" cy="357.90" r="1.35" fill="#d9692a"/>
<circle cx="96.29" cy="354.26" r="1.35" fill="#d9692a"/>
<circle cx="98.42" cy="360.42" r="1.35" fill="#d9692a"/>
<circle cx="100.54" cy="342.26" r="1.35" fill="#d9692a"/>
<circle cx="102.67" cy="335.00" r="1.35" fill="#d9692a"/>
<circle cx="104.80" cy="315.58" r="1.35" fill="#d9692a"/>
<circle cx="106.92" cy="345.89" r="1.35" fill="#d9692a"/>
<circle cx="109.05" cy="351.42" r="1.35" fill="#d9692a"/>
<circle cx="111.18" cy="332.48" r="1.35" fill="#d9692a"/>
<circle cx="113.31" cy="384.26" r="1.35" fill="#d9692a"/>
<circle cx="115.43" cy="320.47" r="1.35" fill="#d9692a"/>
<circle cx="117.56" cy="335.94" r="1.35" fill="#d9692a"/>
<circle cx="119.69" cy="320.79" r="1.35" fill="#d9692a"/>
<circle cx="121.81" cy="352.37" r="1.35" fill="#d9692a"/>
<circle cx="123.94" cy="329.48" r="1.35" fill="#d9692a"/>
<circle cx="126.07" cy="319.68" r="1.35" fill="#d9692a"/>
<circle cx="128.20" cy="322.84" r="1.35" fill="#d9692a"/>
<circle cx="130.32" cy="327.11" r="1.35" fill="#d9692a"/>
<circle cx="132.45" cy="335.94" r="1.35" fill="#d9692a"/>
<circle cx="134.58" cy="319.36" r="1.35" fill="#d9692a"/>
<circle cx="136.70" cy="332.00" r="1.35" fill="#d9692a"/>
<circle cx="138.83" cy="334.05" r="1.35" fill="#d9692a"/>
<circle cx="140.96" cy="331.37" r="1.35" fill="#d9692a"/>
<circle cx="143.09" cy="333.11" r="1.35" fill="#d9692a"/>
<circle cx="145.21" cy="331.05" r="1.35" fill="#d9692a"/>
<circle cx="147.34" cy="330.27" r="1.35" fill="#d9692a"/>
<circle cx="149.47" cy="333.11" r="1.35" fill="#d9692a"/>
<circle cx="151.59" cy="321.27" r="1.35" fill="#d9692a"/>
<circle cx="153.72" cy="322.36" r="1.35" fill="#d9692a"/>
<circle cx="155.85" cy="351.90" r="1.35" fill="#d9692a"/>
<circle cx="157.98" cy="338.78" r="1.35" fill="#d9692a"/>
<circle cx="160.10" cy="312.58" r="1.35" fill="#d9692a"/>
<circle cx="162.23" cy="341.78" r="1.35" fill="#d9692a"/>
<circle cx="164.36" cy="324.73" r="1.35" fill="#d9692a"/>
<circle cx="166.48" cy="321.11" r="1.35" fill="#d9692a"/>
<circle cx="168.61" cy="334.21" r="1.35" fill="#d9692a"/>
<circle cx="170.74" cy="304.21" r="1.35" fill="#d9692a"/>
<circle cx="172.86" cy="317.95" r="1.35" fill="#d9692a"/>
<circle cx="174.99" cy="320.47" r="1.35" fill="#d9692a"/>
<circle cx="177.12" cy="317.31" r="1.35" fill="#d9692a"/>
<circle cx="179.25" cy="325.84" r="1.35" fill="#d9692a"/>
<circle cx="181.37" cy="323.79" r="1.35" fill="#d9692a"/>
<circle cx="183.50" cy="345.26" r="1.35" fill="#d9692a"/>
<circle cx="185.63" cy="330.43" r="1.35" fill="#d9692a"/>
<circle cx="187.75" cy="303.26" r="1.35" fill="#d9692a"/>
<circle cx="189.88" cy="329.00" r="1.35" fill="#d9692a"/>
<circle cx="192.01" cy="336.89" r="1.35" fill="#d9692a"/>
<circle cx="194.14" cy="313.68" r="1.35" fill="#d9692a"/>
<circle cx="196.26" cy="304.99" r="1.35" fill="#d9692a"/>
<circle cx="198.39" cy="321.90" r="1.35" fill="#d9692a"/>
<circle cx="200.52" cy="317.17" r="1.35" fill="#d9692a"/>
<circle cx="202.64" cy="327.89" r="1.35" fill="#d9692a"/>
<circle cx="204.77" cy="324.41" r="1.35" fill="#d9692a"/>
<circle cx="206.90" cy="329.48" r="1.35" fill="#d9692a"/>
<circle cx="209.03" cy="325.06" r="1.35" fill="#d9692a"/>
<circle cx="211.15" cy="317.31" r="1.35" fill="#d9692a"/>
<circle cx="213.28" cy="327.89" r="1.35" fill="#d9692a"/>
<circle cx="215.41" cy="336.59" r="1.35" fill="#d9692a"/>
<circle cx="217.53" cy="331.05" r="1.35" fill="#d9692a"/>
<circle cx="219.66" cy="324.73" r="1.35" fill="#d9692a"/>
<circle cx="221.79" cy="321.11" r="1.35" fill="#d9692a"/>
<circle cx="223.91" cy="344.48" r="1.35" fill="#d9692a"/>
<circle cx="226.04" cy="325.06" r="1.35" fill="#d9692a"/>
<circle cx="228.17" cy="311.47" r="1.35" fill="#d9692a"/>
<circle cx="230.30" cy="325.84" r="1.35" fill="#d9692a"/>
<circle cx="232.42" cy="327.57" r="1.35" fill="#d9692a"/>
<circle cx="234.55" cy="321.90" r="1.35" fill="#d9692a"/>
<circle cx="236.68" cy="327.57" r="1.35" fill="#d9692a"/>
<rect x="17.80" y="213.10" width="229.30" height="178.50" fill="none" stroke="#b4b4b4" stroke-width="1.2"/>
<line x1="16.30" y1="391.60" x2="17.80" y2="391.60" stroke="#888" stroke-width="0.8"/>
<text x="15.00" y="394.80" font-size="9" text-anchor="end" font-family="Liberation Sans, sans-serif" stroke="#111" stroke-width="0.2" fill="#111">0</text>
<line x1="16.30" y1="355.90" x2="17.80" y2="355.90" stroke="#888" stroke-width="0.8"/>
<text x="15.00" y="359.10" font-size="9" text-anchor="end" font-family="Liberation Sans, sans-serif" stroke="#111" stroke-width="0.2" fill="#111">20</text>
<line x1="16.30" y1="320.20" x2="17.80" y2="320.20" stroke="#888" stroke-width="0.8"/>
<text x="15.00" y="323.40" font-size="9" text-anchor="end" font-family="Liberation Sans, sans-serif" stroke="#111" stroke-width="0.2" fill="#111">40</text>
<line x1="16.30" y1="284.50" x2="17.80" y2="284.50" stroke="#888" stroke-width="0.8"/>
<text x="15.00" y="287.70" font-size="9" text-anchor="end" font-family="Liberation Sans, sans-serif" stroke="#111" stroke-width="0.2" fill="#111">60</text>
<line x1="16.30" y1="248.80" x2="17.80" y2="248.80" stroke="#888" stroke-width="0.8"/>
<text x="15.00" y="252.00" font-size="9" text-anchor="end" font-family="Liberation Sans, sans-serif" stroke="#111" stroke-width="0.2" fill="#111">80</text>
<line x1="16.30" y1="213.10" x2="17.80" y2="213.10" stroke="#888" stroke-width="0.8"/>
<text x="15.00" y="216.30" font-size="9" text-anchor="end" font-family="Liberation Sans, sans-serif" stroke="#111" stroke-width="0.2" fill="#111">100</text>
<line x1="28.22" y1="391.60" x2="28.22" y2="393.10" stroke="#888" stroke-width="0.8"/>
<text x="28.22" y="400.40" font-size="9" text-anchor="middle" font-family="Liberation Sans, sans-serif" stroke="#111" stroke-width="0.2" fill="#111">0</text>
<line x1="70.76" y1="391.60" x2="70.76" y2="393.10" stroke="#888" stroke-width="0.8"/>
<text x="70.76" y="400.40" font-size="9" text-anchor="middle" font-family="Liberation Sans, sans-serif" stroke="#111" stroke-width="0.2" fill="#111">20</text>
<line x1="113.31" y1="391.60" x2="113.31" y2="393.10" stroke="#888" stroke-width="0.8"/>
<text x="113.31" y="400.40" font-size="9" text-anchor="middle" font-family="Liberation Sans, sans-serif" stroke="#111" stroke-width="0.2" fill="#111">40</text>
<line x1="155.85" y1="391.60" x2="155.85" y2="393.10" stroke="#888" stroke-width="0.8"/>
<text x="155.85" y="400.40" font-size="9" text-anchor="middle" font-family="Liberation Sans, sans-serif" stroke="#111" stroke-width="0.2" fill="#111">60</text>
<line x1="198.39" y1="391.60" x2="198.39" y2="393.10" stroke="#888" stroke-width="0.8"/>
<text x="198.39" y="400.40" font-size="9" text-anchor="middle" font-family="Liberation Sans, sans-serif" stroke="#111" stroke-width="0.2" fill="#111">80</text>
<line x1="240.93" y1="391.60" x2="240.93" y2="393.10" stroke="#888" stroke-width="0.8"/>
<text x="240.93" y="400.40" font-size="9" text-anchor="middle" font-family="Liberation Sans, sans-serif" stroke="#111" stroke-width="0.2" fill="#111">100</text>
<text x="69.70" y="412.50" font-size="12.8" font-family="Liberation Sans, sans-serif" stroke="#111" stroke-width="0.2" fill="#111" textLength="124.6" lengthAdjust="spacingAndGlyphs">Disease model gene</text>
<rect x="23.80" y="219.00" width="193.50" height="38.10" rx="2" fill="#fff" fill-opacity="0.8" stroke="#e2e2e2" stroke-width="0.9"/>
<circle cx="41.30" cy="228.30" r="1.05" fill="#1b5690"/>
<circle cx="41.30" cy="245.80" r="1.05" fill="#d9692a"/>
<text x="64.00" y="232.80" font-size="12.3" font-family="Liberation Sans, sans-serif" stroke="#111" stroke-width="0.1" fill="#111" textLength="147.5" lengthAdjust="spacingAndGlyphs">% OMIM overlap with FT</text>
<text x="64.00" y="249.70" font-size="12.3" font-family="Liberation Sans, sans-serif" stroke="#111" stroke-width="0.1" fill="#111" textLength="85.8" lengthAdjust="spacingAndGlyphs">OMIM, FT RBO</text>
<circle cx="299.42" cy="388.32" r="1.35" fill="#1b5690"/>
<circle cx="301.55" cy="388.32" r="1.35" fill="#1b5690"/>
<circle cx="303.68" cy="386.74" r="1.35" fill="#1b5690"/>
<circle cx="305.80" cy="386.42" r="1.35" fill="#1b5690"/>
<circle cx="307.93" cy="386.42" r="1.35" fill="#1b5690"/>
<circle cx="310.06" cy="386.10" r="1.35" fill="#1b5690"/>
<circle cx="312.19" cy="385.48" r="1.35" fill="#1b5690"/>
<circle cx="314.31" cy="385.16" r="1.35" fill="#1b5690"/>
<circle cx="316.44" cy="384.69" r="1.35" fill="#1b5690"/>
<circle cx="318.57" cy="384.21" r="1.35" fill="#1b5690"/>
<circle cx="320.69" cy="383.59" r="1.35" fill="#1b5690"/>
<circle cx="322.82" cy="382.32" r="1.35" fill="#1b5690"/>
<circle cx="324.95" cy="382.00" r="1.35" fill="#1b5690"/>
<circle cx="327.07" cy="382.00" r="1.35" fill="#1b5690"/>
<circle cx="329.20" cy="382.00" r="1.35" fill="#1b5690"/>
<circle cx="331.33" cy="381.53" r="1.35" fill="#1b5690"/>
<circle cx="333.46" cy="380.89" r="1.35" fill="#1b5690"/>
<circle cx="335.58" cy="380.73" r="1.35" fill="#1b5690"/>
<circle cx="337.71" cy="380.73" r="1.35" fill="#1b5690"/>
<circle cx="339.84" cy="380.73" r="1.35" fill="#1b5690"/>
<circle cx="341.96" cy="380.59" r="1.35" fill="#1b5690"/>
<circle cx="344.09" cy="380.43" r="1.35" fill="#1b5690"/>
<circle cx="346.22" cy="380.10" r="1.35" fill="#1b5690"/>
<circle cx="348.35" cy="379.78" r="1.35" fill="#1b5690"/>
<circle cx="350.47" cy="379.48" r="1.35" fill="#1b5690"/>
<circle cx="352.60" cy="379.00" r="1.35" fill="#1b5690"/>
<circle cx="354.73" cy="378.12" r="1.35" fill="#1b5690"/>
<circle cx="356.85" cy="377.27" r="1.35" fill="#1b5690"/>
<circle cx="358.98" cy="377.00" r="1.35" fill="#1b5690"/>
<circle cx="361.11" cy="376.73" r="1.35" fill="#1b5690"/>
<circle cx="363.24" cy="376.48" r="1.35" fill="#1b5690"/>
<circle cx="365.36" cy="376.32" r="1.35" fill="#1b5690"/>
<circle cx="367.49" cy="376.16" r="1.35" fill="#1b5690"/>
<circle cx="369.62" cy="376.00" r="1.35" fill="#1b5690"/>
<circle cx="371.74" cy="375.78" r="1.35" fill="#1b5690"/>
<circle cx="373.87" cy="375.57" r="1.35" fill="#1b5690"/>
<circle cx="376.00" cy="375.37" r="1.35" fill="#1b5690"/>
<circle cx="378.12" cy="375.05" r="1.35" fill="#1b5690"/>
<circle cx="380.25" cy="374.73" r="1.35" fill="#1b5690"/>
<circle cx="382.38" cy="374.43" r="1.35" fill="#1b5690"/>
<circle cx="384.51" cy="374.32" r="1.35" fill="#1b5690"/>
<circle cx="386.63" cy="374.21" r="1.35" fill="#1b5690"/>
<circle cx="388.76" cy="374.11" r="1.35" fill="#1b5690"/>
<circle cx="390.89" cy="373.71" r="1.35" fill="#1b5690"/>
<circle cx="393.01" cy="373.32" r="1.35" fill="#1b5690"/>
<circle cx="395.14" cy="373.16" r="1.35" fill="#1b5690"/>
<circle cx="397.27" cy="373.00" r="1.35" fill="#1b5690"/>
<circle cx="399.40" cy="372.84" r="1.35" fill="#1b5690"/>
<circle cx="401.52" cy="372.63" r="1.35" fill="#1b5690"/>
<circle cx="403.65" cy="372.43" r="1.35" fill="#1b5690"/>
<circle cx="405.78" cy="372.21" r="1.35" fill="#1b5690"/>
<circle cx="407.90" cy="370.95" r="1.35" fill="#1b5690"/>
<circle cx="410.03" cy="370.79" r="1.35" fill="#1b5690"/>
<circle cx="412.16" cy="370.63" r="1.35" fill="#1b5690"/>
<circle cx="414.29" cy="370.16" r="1.35" fill="#1b5690"/>
<circle cx="416.41" cy="369.68" r="1.35" fill="#1b5690"/>
<circle cx="418.54" cy="369.32" r="1.35" fill="#1b5690"/>
<circle cx="420.67" cy="368.95" r="1.35" fill="#1b5690"/>
<circle cx="422.79" cy="368.57" r="1.35" fill="#1b5690"/>
<circle cx="424.92" cy="367.79" r="1.35" fill="#1b5690"/>
<circle cx="427.05" cy="367.52" r="1.35" fill="#1b5690"/>
<circle cx="429.18" cy="367.27" r="1.35" fill="#1b5690"/>
<circle cx="431.30" cy="367.00" r="1.35" fill="#1b5690"/>
<circle cx="433.43" cy="366.73" r="1.35" fill="#1b5690"/>
<circle cx="435.56" cy="366.47" r="1.35" fill="#1b5690"/>
<circle cx="437.68" cy="366.22" r="1.35" fill="#1b5690"/>
<circle cx="439.81" cy="366.11" r="1.35" fill="#1b5690"/>
<circle cx="441.94" cy="366.00" r="1.35" fill="#1b5690"/>
<circle cx="444.06" cy="365.90" r="1.35" fill="#1b5690"/>
<circle cx="446.19" cy="365.57" r="1.35" fill="#1b5690"/>
<circle cx="448.32" cy="365.27" r="1.35" fill="#1b5690"/>
<circle cx="450.45" cy="364.95" r="1.35" fill="#1b5690"/>
<circle cx="452.57" cy="364.40" r="1.35" fill="#1b5690"/>
<circle cx="454.70" cy="363.84" r="1.35" fill="#1b5690"/>
<circle cx="456.83" cy="362.67" r="1.35" fill="#1b5690"/>
<circle cx="458.95" cy="361.47" r="1.35" fill="#1b5690"/>
<circle cx="461.08" cy="360.68" r="1.35" fill="#1b5690"/>
<circle cx="463.21" cy="360.52" r="1.35" fill="#1b5690"/>
<circle cx="465.34" cy="360.36" r="1.35" fill="#1b5690"/>
<circle cx="467.46" cy="360.20" r="1.35" fill="#1b5690"/>
<circle cx="469.59" cy="359.58" r="1.35" fill="#1b5690"/>
<circle cx="471.72" cy="359.58" r="1.35" fill="#1b5690"/>
<circle cx="473.84" cy="358.63" r="1.35" fill="#1b5690"/>
<circle cx="475.97" cy="355.95" r="1.35" fill="#1b5690"/>
<circle cx="478.10" cy="354.36" r="1.35" fill="#1b5690"/>
<circle cx="480.23" cy="354.13" r="1.35" fill="#1b5690"/>
<circle cx="482.35" cy="353.90" r="1.35" fill="#1b5690"/>
<circle cx="484.48" cy="353.58" r="1.35" fill="#1b5690"/>
<circle cx="486.61" cy="352.01" r="1.35" fill="#1b5690"/>
<circle cx="488.73" cy="351.69" r="1.35" fill="#1b5690"/>
<circle cx="490.86" cy="349.63" r="1.35" fill="#1b5690"/>
<circle cx="492.99" cy="348.37" r="1.35" fill="#1b5690"/>
<circle cx="495.11" cy="347.26" r="1.35" fill="#1b5690"/>
<circle cx="497.24" cy="342.21" r="1.35" fill="#1b5690"/>
<circle cx="499.37" cy="341.74" r="1.35" fill="#1b5690"/>
<circle cx="501.50" cy="334.32" r="1.35" fill="#1b5690"/>
<circle cx="503.62" cy="328.32" r="1.35" fill="#1b5690"/>
<circle cx="505.75" cy="327.05" r="1.35" fill="#1b5690"/>
<circle cx="507.88" cy="326.73" r="1.35" fill="#1b5690"/>
<circle cx="299.42" cy="383.89" r="1.35" fill="#d9692a"/>
<circle cx="301.55" cy="360.20" r="1.35" fill="#d9692a"/>
<circle cx="303.68" cy="327.38" r="1.35" fill="#d9692a"/>
<circle cx="305.80" cy="312.52" r="1.35" fill="#d9692a"/>
<circle cx="307.93" cy="341.74" r="1.35" fill="#d9692a"/>
<circle cx="310.06" cy="331.78" r="1.35" fill="#d9692a"/>
<circle cx="312.19" cy="374.89" r="1.35" fill="#d9692a"/>
<circle cx="314.31" cy="335.73" r="1.35" fill="#d9692a"/>
<circle cx="316.44" cy="320.41" r="1.35" fill="#d9692a"/>
<circle cx="318.57" cy="334.78" r="1.35" fill="#d9692a"/>
<circle cx="320.69" cy="336.84" r="1.35" fill="#d9692a"/>
<circle cx="322.82" cy="327.38" r="1.35" fill="#d9692a"/>
<circle cx="324.95" cy="344.89" r="1.35" fill="#d9692a"/>
<circle cx="327.07" cy="324.84" r="1.35" fill="#d9692a"/>
<circle cx="329.20" cy="317.25" r="1.35" fill="#d9692a"/>
<circle cx="331.33" cy="370.63" r="1.35" fill="#d9692a"/>
<circle cx="333.46" cy="333.84" r="1.35" fill="#d9692a"/>
<circle cx="335.58" cy="327.84" r="1.35" fill="#d9692a"/>
<circle cx="337.71" cy="336.53" r="1.35" fill="#d9692a"/>
<circle cx="339.84" cy="345.21" r="1.35" fill="#d9692a"/>
<circle cx="341.96" cy="359.90" r="1.35" fill="#d9692a"/>
<circle cx="344.09" cy="325.00" r="1.35" fill="#d9692a"/>
<circle cx="346.22" cy="324.68" r="1.35" fill="#d9692a"/>
<circle cx="348.35" cy="319.31" r="1.35" fill="#d9692a"/>
<circle cx="350.47" cy="324.38" r="1.35" fill="#d9692a"/>
<circle cx="352.60" cy="333.68" r="1.35" fill="#d9692a"/>
<circle cx="354.73" cy="325.63" r="1.35" fill="#d9692a"/>
<circle cx="356.85" cy="317.74" r="1.35" fill="#d9692a"/>
<circle cx="358.98" cy="372.05" r="1.35" fill="#d9692a"/>
<circle cx="361.11" cy="335.59" r="1.35" fill="#d9692a"/>
<circle cx="363.24" cy="322.00" r="1.35" fill="#d9692a"/>
<circle cx="365.36" cy="321.68" r="1.35" fill="#d9692a"/>
<circle cx="367.49" cy="333.37" r="1.35" fill="#d9692a"/>
<circle cx="369.62" cy="313.31" r="1.35" fill="#d9692a"/>
<circle cx="371.74" cy="320.74" r="1.35" fill="#d9692a"/>
<circle cx="373.87" cy="344.26" r="1.35" fill="#d9692a"/>
<circle cx="376.00" cy="321.06" r="1.35" fill="#d9692a"/>
<circle cx="378.12" cy="321.22" r="1.35" fill="#d9692a"/>
<circle cx="380.25" cy="369.06" r="1.35" fill="#d9692a"/>
<circle cx="382.38" cy="317.25" r="1.35" fill="#d9692a"/>
<circle cx="384.51" cy="345.85" r="1.35" fill="#d9692a"/>
<circle cx="386.63" cy="324.84" r="1.35" fill="#d9692a"/>
<circle cx="388.76" cy="351.69" r="1.35" fill="#d9692a"/>
<circle cx="390.89" cy="333.84" r="1.35" fill="#d9692a"/>
<circle cx="393.01" cy="336.68" r="1.35" fill="#d9692a"/>
<circle cx="395.14" cy="355.63" r="1.35" fill="#d9692a"/>
<circle cx="397.27" cy="329.27" r="1.35" fill="#d9692a"/>
<circle cx="399.40" cy="342.99" r="1.35" fill="#d9692a"/>
<circle cx="401.52" cy="325.63" r="1.35" fill="#d9692a"/>
<circle cx="403.65" cy="352.01" r="1.35" fill="#d9692a"/>
<circle cx="405.78" cy="332.43" r="1.35" fill="#d9692a"/>
<circle cx="407.90" cy="342.21" r="1.35" fill="#d9692a"/>
<circle cx="410.03" cy="330.21" r="1.35" fill="#d9692a"/>
<circle cx="412.16" cy="334.62" r="1.35" fill="#d9692a"/>
<circle cx="414.29" cy="327.68" r="1.35" fill="#d9692a"/>
<circle cx="416.41" cy="330.21" r="1.35" fill="#d9692a"/>
<circle cx="418.54" cy="352.01" r="1.35" fill="#d9692a"/>
<circle cx="420.67" cy="333.05" r="1.35" fill="#d9692a"/>
<circle cx="422.79" cy="333.05" r="1.35" fill="#d9692a"/>
<circle cx="424.92" cy="345.69" r="1.35" fill="#d9692a"/>
<circle cx="427.05" cy="330.84" r="1.35" fill="#d9692a"/>
<circle cx="429.18" cy="337.64" r="1.35" fill="#d9692a"/>
<circle cx="431.30" cy="346.15" r="1.35" fill="#d9692a"/>
<circle cx="433.43" cy="326.73" r="1.35" fill="#d9692a"/>
<circle cx="435.56" cy="316.95" r="1.35" fill="#d9692a"/>
<circle cx="437.68" cy="345.05" r="1.35" fill="#d9692a"/>
<circle cx="439.81" cy="323.57" r="1.35" fill="#d9692a"/>
<circle cx="441.94" cy="321.68" r="1.35" fill="#d9692a"/>
<circle cx="444.06" cy="304.80" r="1.35" fill="#d9692a"/>
<circle cx="446.19" cy="357.52" r="1.35" fill="#d9692a"/>
<circle cx="448.32" cy="328.00" r="1.35" fill="#d9692a"/>
<circle cx="450.45" cy="322.79" r="1.35" fill="#d9692a"/>
<circle cx="452.57" cy="337.32" r="1.35" fill="#d9692a"/>
<circle cx="454.70" cy="338.59" r="1.35" fill="#d9692a"/>
<circle cx="456.83" cy="338.59" r="1.35" fill="#d9692a"/>
<circle cx="458.95" cy="354.85" r="1.35" fill="#d9692a"/>
<circle cx="461.08" cy="320.41" r="1.35" fill="#d9692a"/>
<circle cx="463.21" cy="332.57" r="1.35" fill="#d9692a"/>
<circle cx="465.34" cy="350.10" r="1.35" fill="#d9692a"/>
<circle cx="467.46" cy="328.95" r="1.35" fill="#d9692a"/>
<circle cx="469.59" cy="351.21" r="1.35" fill="#d9692a"/>
<circle cx="471.72" cy="315.68" r="1.35" fill="#d9692a"/>
<circle cx="473.84" cy="336.84" r="1.35" fill="#d9692a"/>
<circle cx="475.97" cy="303.99" r="1.35" fill="#d9692a"/>
<circle cx="478.10" cy="303.37" r="1.35" fill="#d9692a"/>
<circle cx="480.23" cy="330.37" r="1.35" fill="#d9692a"/>
<circle cx="482.35" cy="321.06" r="1.35" fill="#d9692a"/>
<circle cx="484.48" cy="354.06" r="1.35" fill="#d9692a"/>
<circle cx="486.61" cy="341.58" r="1.35" fill="#d9692a"/>
<circle cx="488.73" cy="338.10" r="1.35" fill="#d9692a"/>
<circle cx="490.86" cy="354.06" r="1.35" fill="#d9692a"/>
<circle cx="492.99" cy="336.68" r="1.35" fill="#d9692a"/>
<circle cx="495.11" cy="328.95" r="1.35" fill="#d9692a"/>
<circle cx="497.24" cy="330.54" r="1.35" fill="#d9692a"/>
<circle cx="499.37" cy="319.79" r="1.35" fill="#d9692a"/>
<circle cx="501.50" cy="331.00" r="1.35" fill="#d9692a"/>
<circle cx="503.62" cy="304.96" r="1.35" fill="#d9692a"/>
<circle cx="505.75" cy="311.42" r="1.35" fill="#d9692a"/>
<circle cx="507.88" cy="337.48" r="1.35" fill="#d9692a"/>
<rect x="289.00" y="213.10" width="229.30" height="178.50" fill="none" stroke="#b4b4b4" stroke-width="1.2"/>
<line x1="287.50" y1="391.60" x2="289.00" y2="391.60" stroke="#888" stroke-width="0.8"/>
<text x="286.20" y="394.80" font-size="9" text-anchor="end" font-family="Liberation Sans, sans-serif" stroke="#111" stroke-width="0.2" fill="#111">0</text>
<line x1="287.50" y1="355.90" x2="289.00" y2="355.90" stroke="#888" stroke-width="0.8"/>
<text x="286.20" y="359.10" font-size="9" text-anchor="end" font-family="Liberation Sans, sans-serif" stroke="#111" stroke-width="0.2" fill="#111">20</text>
<line x1="287.50" y1="320.20" x2="289.00" y2="320.20" stroke="#888" stroke-width="0.8"/>
<text x="286.20" y="323.40" font-size="9" text-anchor="end" font-family="Liberation Sans, sans-serif" stroke="#111" stroke-width="0.2" fill="#111">40</text>
<line x1="287.50" y1="284.50" x2="289.00" y2="284.50" stroke="#888" stroke-width="0.8"/>
<text x="286.20" y="287.70" font-size="9" text-anchor="end" font-family="Liberation Sans, sans-serif" stroke="#111" stroke-width="0.2" fill="#111">60</text>
<line x1="287.50" y1="248.80" x2="289.00" y2="248.80" stroke="#888" stroke-width="0.8"/>
<text x="286.20" y="252.00" font-size="9" text-anchor="end" font-family="Liberation Sans, sans-serif" stroke="#111" stroke-width="0.2" fill="#111">80</text>
<line x1="287.50" y1="213.10" x2="289.00" y2="213.10" stroke="#888" stroke-width="0.8"/>
<text x="286.20" y="216.30" font-size="9" text-anchor="end" font-family="Liberation Sans, sans-serif" stroke="#111" stroke-width="0.2" fill="#111">100</text>
<line x1="299.42" y1="391.60" x2="299.42" y2="393.10" stroke="#888" stroke-width="0.8"/>
<text x="299.42" y="400.40" font-size="9" text-anchor="middle" font-family="Liberation Sans, sans-serif" stroke="#111" stroke-width="0.2" fill="#111">0</text>
<line x1="341.96" y1="391.60" x2="341.96" y2="393.10" stroke="#888" stroke-width="0.8"/>
<text x="341.96" y="400.40" font-size="9" text-anchor="middle" font-family="Liberation Sans, sans-serif" stroke="#111" stroke-width="0.2" fill="#111">20</text>
<line x1="384.51" y1="391.60" x2="384.51" y2="393.10" stroke="#888" stroke-width="0.8"/>
<text x="384.51" y="400.40" font-size="9" text-anchor="middle" font-family="Liberation Sans, sans-serif" stroke="#111" stroke-width="0.2" fill="#111">40</text>
<line x1="427.05" y1="391.60" x2="427.05" y2="393.10" stroke="#888" stroke-width="0.8"/>
<text x="427.05" y="400.40" font-size="9" text-anchor="middle" font-family="Liberation Sans, sans-serif" stroke="#111" stroke-width="0.2" fill="#111">60</text>
<line x1="469.59" y1="391.60" x2="469.59" y2="393.10" stroke="#888" stroke-width="0.8"/>
<text x="469.59" y="400.40" font-size="9" text-anchor="middle" font-family="Liberation Sans, sans-serif" stroke="#111" stroke-width="0.2" fill="#111">80</text>
<line x1="512.13" y1="391.60" x2="512.13" y2="393.10" stroke="#888" stroke-width="0.8"/>
<text x="512.13" y="400.40" font-size="9" text-anchor="middle" font-family="Liberation Sans, sans-serif" stroke="#111" stroke-width="0.2" fill="#111">100</text>
<text x="340.90" y="412.50" font-size="12.8" font-family="Liberation Sans, sans-serif" stroke="#111" stroke-width="0.2" fill="#111" textLength="124.6" lengthAdjust="spacingAndGlyphs">Disease model gene</text>
<rect x="295.00" y="219.00" width="193.40" height="38.10" rx="2" fill="#fff" fill-opacity="0.8" stroke="#e2e2e2" stroke-width="0.9"/>
<circle cx="312.50" cy="228.30" r="1.05" fill="#1b5690"/>
<circle cx="312.50" cy="245.80" r="1.05" fill="#d9692a"/>
<text x="335.20" y="232.80" font-size="12.3" font-family="Liberation Sans, sans-serif" stroke="#111" stroke-width="0.1" fill="#111" textLength="147.5" lengthAdjust="spacingAndGlyphs">% FT overlap with OMIM</text>
<text x="335.20" y="249.70" font-size="12.3" font-family="Liberation Sans, sans-serif" stroke="#111" stroke-width="0.1" fill="#111" textLength="85.8" lengthAdjust="spacingAndGlyphs">FT, OMIM RBO</text>
<circle cx="28.22" cy="608.14" r="1.35" fill="#1b5690"/>
<circle cx="30.35" cy="603.73" r="1.35" fill="#1b5690"/>
<circle cx="32.48" cy="599.04" r="1.35" fill="#1b5690"/>
<circle cx="34.60" cy="597.66" r="1.35" fill="#1b5690"/>
<circle cx="36.73" cy="597.11" r="1.35" fill="#1b5690"/>
<circle cx="38.86" cy="590.20" r="1.35" fill="#1b5690"/>
<circle cx="40.99" cy="589.38" r="1.35" fill="#1b5690"/>
<circle cx="43.11" cy="588.27" r="1.35" fill="#1b5690"/>
<circle cx="45.24" cy="584.13" r="1.35" fill="#1b5690"/>
<circle cx="47.37" cy="582.70" r="1.35" fill="#1b5690"/>
<circle cx="49.49" cy="581.26" r="1.35" fill="#1b5690"/>
<circle cx="51.62" cy="580.78" r="1.35" fill="#1b5690"/>
<circle cx="53.75" cy="579.49" r="1.35" fill="#1b5690"/>
<circle cx="55.87" cy="578.37" r="1.35" fill="#1b5690"/>
<circle cx="58.00" cy="577.24" r="1.35" fill="#1b5690"/>
<circle cx="60.13" cy="575.96" r="1.35" fill="#1b5690"/>
<circle cx="62.26" cy="575.96" r="1.35" fill="#1b5690"/>
<circle cx="64.38" cy="575.31" r="1.35" fill="#1b5690"/>
<circle cx="66.51" cy="574.35" r="1.35" fill="#1b5690"/>
<circle cx="68.64" cy="572.73" r="1.35" fill="#1b5690"/>
<circle cx="70.76" cy="572.40" r="1.35" fill="#1b5690"/>
<circle cx="72.89" cy="571.12" r="1.35" fill="#1b5690"/>
<circle cx="75.02" cy="570.48" r="1.35" fill="#1b5690"/>
<circle cx="77.15" cy="567.91" r="1.35" fill="#1b5690"/>
<circle cx="79.27" cy="566.62" r="1.35" fill="#1b5690"/>
<circle cx="81.40" cy="565.98" r="1.35" fill="#1b5690"/>
<circle cx="83.53" cy="565.98" r="1.35" fill="#1b5690"/>
<circle cx="85.65" cy="565.50" r="1.35" fill="#1b5690"/>
<circle cx="87.78" cy="565.09" r="1.35" fill="#1b5690"/>
<circle cx="89.91" cy="564.69" r="1.35" fill="#1b5690"/>
<circle cx="92.04" cy="563.09" r="1.35" fill="#1b5690"/>
<circle cx="94.16" cy="562.66" r="1.35" fill="#1b5690"/>
<circle cx="96.29" cy="562.23" r="1.35" fill="#1b5690"/>
<circle cx="98.42" cy="561.80" r="1.35" fill="#1b5690"/>
<circle cx="100.54" cy="561.23" r="1.35" fill="#1b5690"/>
<circle cx="102.67" cy="560.68" r="1.35" fill="#1b5690"/>
<circle cx="104.80" cy="560.11" r="1.35" fill="#1b5690"/>
<circle cx="106.92" cy="559.55" r="1.35" fill="#1b5690"/>
<circle cx="109.05" cy="559.02" r="1.35" fill="#1b5690"/>
<circle cx="111.18" cy="558.46" r="1.35" fill="#1b5690"/>
<circle cx="113.31" cy="557.93" r="1.35" fill="#1b5690"/>
<circle cx="115.43" cy="555.04" r="1.35" fill="#1b5690"/>
<circle cx="117.56" cy="553.84" r="1.35" fill="#1b5690"/>
<circle cx="119.69" cy="552.63" r="1.35" fill="#1b5690"/>
<circle cx="121.81" cy="551.57" r="1.35" fill="#1b5690"/>
<circle cx="123.94" cy="550.54" r="1.35" fill="#1b5690"/>
<circle cx="126.07" cy="550.38" r="1.35" fill="#1b5690"/>
<circle cx="128.20" cy="550.22" r="1.35" fill="#1b5690"/>
<circle cx="130.32" cy="549.00" r="1.35" fill="#1b5690"/>
<circle cx="132.45" cy="547.81" r="1.35" fill="#1b5690"/>
<circle cx="134.58" cy="547.24" r="1.35" fill="#1b5690"/>
<circle cx="136.70" cy="546.68" r="1.35" fill="#1b5690"/>
<circle cx="138.83" cy="546.20" r="1.35" fill="#1b5690"/>
<circle cx="140.96" cy="545.72" r="1.35" fill="#1b5690"/>
<circle cx="143.09" cy="544.40" r="1.35" fill="#1b5690"/>
<circle cx="145.21" cy="543.08" r="1.35" fill="#1b5690"/>
<circle cx="147.34" cy="542.68" r="1.35" fill="#1b5690"/>
<circle cx="149.47" cy="542.27" r="1.35" fill="#1b5690"/>
<circle cx="151.59" cy="541.90" r="1.35" fill="#1b5690"/>
<circle cx="153.72" cy="541.52" r="1.35" fill="#1b5690"/>
<circle cx="155.85" cy="541.15" r="1.35" fill="#1b5690"/>
<circle cx="157.98" cy="540.67" r="1.35" fill="#1b5690"/>
<circle cx="160.10" cy="540.19" r="1.35" fill="#1b5690"/>
<circle cx="162.23" cy="539.81" r="1.35" fill="#1b5690"/>
<circle cx="164.36" cy="539.44" r="1.35" fill="#1b5690"/>
<circle cx="166.48" cy="539.06" r="1.35" fill="#1b5690"/>
<circle cx="168.61" cy="538.69" r="1.35" fill="#1b5690"/>
<circle cx="170.74" cy="538.31" r="1.35" fill="#1b5690"/>
<circle cx="172.86" cy="537.94" r="1.35" fill="#1b5690"/>
<circle cx="174.99" cy="537.83" r="1.35" fill="#1b5690"/>
<circle cx="177.12" cy="537.72" r="1.35" fill="#1b5690"/>
<circle cx="179.25" cy="537.61" r="1.35" fill="#1b5690"/>
<circle cx="181.37" cy="537.29" r="1.35" fill="#1b5690"/>
<circle cx="183.50" cy="536.97" r="1.35" fill="#1b5690"/>
<circle cx="185.63" cy="536.76" r="1.35" fill="#1b5690"/>
<circle cx="187.75" cy="536.54" r="1.35" fill="#1b5690"/>
<circle cx="189.88" cy="536.33" r="1.35" fill="#1b5690"/>
<circle cx="192.01" cy="535.63" r="1.35" fill="#1b5690"/>
<circle cx="194.14" cy="534.94" r="1.35" fill="#1b5690"/>
<circle cx="196.26" cy="533.17" r="1.35" fill="#1b5690"/>
<circle cx="198.39" cy="532.92" r="1.35" fill="#1b5690"/>
<circle cx="200.52" cy="532.69" r="1.35" fill="#1b5690"/>
<circle cx="202.64" cy="531.46" r="1.35" fill="#1b5690"/>
<circle cx="204.77" cy="531.46" r="1.35" fill="#1b5690"/>
<circle cx="206.90" cy="531.46" r="1.35" fill="#1b5690"/>
<circle cx="209.03" cy="529.19" r="1.35" fill="#1b5690"/>
<circle cx="211.15" cy="526.30" r="1.35" fill="#1b5690"/>
<circle cx="213.28" cy="521.80" r="1.35" fill="#1b5690"/>
<circle cx="215.41" cy="521.80" r="1.35" fill="#1b5690"/>
<circle cx="217.53" cy="521.16" r="1.35" fill="#1b5690"/>
<circle cx="219.66" cy="518.59" r="1.35" fill="#1b5690"/>
<circle cx="221.79" cy="517.62" r="1.35" fill="#1b5690"/>
<circle cx="223.91" cy="517.44" r="1.35" fill="#1b5690"/>
<circle cx="226.04" cy="517.28" r="1.35" fill="#1b5690"/>
<circle cx="228.17" cy="516.96" r="1.35" fill="#1b5690"/>
<circle cx="230.30" cy="514.71" r="1.35" fill="#1b5690"/>
<circle cx="232.42" cy="513.75" r="1.35" fill="#1b5690"/>
<circle cx="234.55" cy="503.79" r="1.35" fill="#1b5690"/>
<circle cx="236.68" cy="478.85" r="1.35" fill="#1b5690"/>
<circle cx="28.22" cy="610.00" r="1.35" fill="#d9692a"/>
<circle cx="30.35" cy="597.66" r="1.35" fill="#d9692a"/>
<circle cx="32.48" cy="606.84" r="1.35" fill="#d9692a"/>
<circle cx="34.60" cy="551.82" r="1.35" fill="#d9692a"/>
<circle cx="36.73" cy="609.41" r="1.35" fill="#d9692a"/>
<circle cx="38.86" cy="529.62" r="1.35" fill="#d9692a"/>
<circle cx="40.99" cy="571.12" r="1.35" fill="#d9692a"/>
<circle cx="43.11" cy="575.15" r="1.35" fill="#d9692a"/>
<circle cx="45.24" cy="555.84" r="1.35" fill="#d9692a"/>
<circle cx="47.37" cy="578.85" r="1.35" fill="#d9692a"/>
<circle cx="49.49" cy="578.85" r="1.35" fill="#d9692a"/>
<circle cx="51.62" cy="571.44" r="1.35" fill="#d9692a"/>
<circle cx="53.75" cy="563.57" r="1.35" fill="#d9692a"/>
<circle cx="55.87" cy="578.40" r="1.35" fill="#d9692a"/>
<circle cx="58.00" cy="585.60" r="1.35" fill="#d9692a"/>
<circle cx="60.13" cy="596.38" r="1.35" fill="#d9692a"/>
<circle cx="62.26" cy="591.24" r="1.35" fill="#d9692a"/>
<circle cx="64.38" cy="592.84" r="1.35" fill="#d9692a"/>
<circle cx="66.51" cy="579.65" r="1.35" fill="#d9692a"/>
<circle cx="68.64" cy="575.64" r="1.35" fill="#d9692a"/>
<circle cx="70.76" cy="591.24" r="1.35" fill="#d9692a"/>
<circle cx="72.89" cy="589.79" r="1.35" fill="#d9692a"/>
<circle cx="75.02" cy="585.60" r="1.35" fill="#d9692a"/>
<circle cx="77.15" cy="589.31" r="1.35" fill="#d9692a"/>
<circle cx="79.27" cy="572.08" r="1.35" fill="#d9692a"/>
<circle cx="81.40" cy="583.67" r="1.35" fill="#d9692a"/>
<circle cx="83.53" cy="580.78" r="1.35" fill="#d9692a"/>
<circle cx="85.65" cy="572.40" r="1.35" fill="#d9692a"/>
<circle cx="87.78" cy="575.15" r="1.35" fill="#d9692a"/>
<circle cx="89.91" cy="577.56" r="1.35" fill="#d9692a"/>
<circle cx="92.04" cy="571.28" r="1.35" fill="#d9692a"/>
<circle cx="94.16" cy="583.99" r="1.35" fill="#d9692a"/>
<circle cx="96.29" cy="566.62" r="1.35" fill="#d9692a"/>
<circle cx="98.42" cy="570.48" r="1.35" fill="#d9692a"/>
<circle cx="100.54" cy="558.25" r="1.35" fill="#d9692a"/>
<circle cx="102.67" cy="556.96" r="1.35" fill="#d9692a"/>
<circle cx="104.80" cy="558.73" r="1.35" fill="#d9692a"/>
<circle cx="106.92" cy="586.74" r="1.35" fill="#d9692a"/>
<circle cx="109.05" cy="562.28" r="1.35" fill="#d9692a"/>
<circle cx="111.18" cy="580.45" r="1.35" fill="#d9692a"/>
<circle cx="113.31" cy="561.16" r="1.35" fill="#d9692a"/>
<circle cx="115.43" cy="585.27" r="1.35" fill="#d9692a"/>
<circle cx="117.56" cy="575.47" r="1.35" fill="#d9692a"/>
<circle cx="119.69" cy="563.57" r="1.35" fill="#d9692a"/>
<circle cx="121.81" cy="582.38" r="1.35" fill="#d9692a"/>
<circle cx="123.94" cy="576.76" r="1.35" fill="#d9692a"/>
<circle cx="126.07" cy="565.01" r="1.35" fill="#d9692a"/>
<circle cx="128.20" cy="574.67" r="1.35" fill="#d9692a"/>
<circle cx="130.32" cy="550.70" r="1.35" fill="#d9692a"/>
<circle cx="132.45" cy="587.86" r="1.35" fill="#d9692a"/>
<circle cx="134.58" cy="573.23" r="1.35" fill="#d9692a"/>
<circle cx="136.70" cy="557.29" r="1.35" fill="#d9692a"/>
<circle cx="138.83" cy="570.80" r="1.35" fill="#d9692a"/>
<circle cx="140.96" cy="559.39" r="1.35" fill="#d9692a"/>
<circle cx="143.09" cy="554.77" r="1.35" fill="#d9692a"/>
<circle cx="145.21" cy="574.14" r="1.35" fill="#d9692a"/>
<circle cx="147.34" cy="592.97" r="1.35" fill="#d9692a"/>
<circle cx="149.47" cy="564.59" r="1.35" fill="#d9692a"/>
<circle cx="151.59" cy="557.87" r="1.35" fill="#d9692a"/>
<circle cx="153.72" cy="554.34" r="1.35" fill="#d9692a"/>
<circle cx="155.85" cy="573.01" r="1.35" fill="#d9692a"/>
<circle cx="157.98" cy="575.58" r="1.35" fill="#d9692a"/>
<circle cx="160.10" cy="581.53" r="1.35" fill="#d9692a"/>
<circle cx="162.23" cy="565.12" r="1.35" fill="#d9692a"/>
<circle cx="164.36" cy="560.14" r="1.35" fill="#d9692a"/>
<circle cx="166.48" cy="572.03" r="1.35" fill="#d9692a"/>
<circle cx="168.61" cy="568.50" r="1.35" fill="#d9692a"/>
<circle cx="170.74" cy="555.95" r="1.35" fill="#d9692a"/>
<circle cx="172.86" cy="571.87" r="1.35" fill="#d9692a"/>
<circle cx="174.99" cy="560.14" r="1.35" fill="#d9692a"/>
<circle cx="177.12" cy="571.87" r="1.35" fill="#d9692a"/>
<circle cx="179.25" cy="554.34" r="1.35" fill="#d9692a"/>
<circle cx="181.37" cy="556.27" r="1.35" fill="#d9692a"/>
<circle cx="183.50" cy="576.55" r="1.35" fill="#d9692a"/>
<circle cx="185.63" cy="560.46" r="1.35" fill="#d9692a"/>
<circle cx="187.75" cy="547.91" r="1.35" fill="#d9692a"/>
<circle cx="189.88" cy="546.63" r="1.35" fill="#d9692a"/>
<circle cx="192.01" cy="570.42" r="1.35" fill="#d9692a"/>
<circle cx="194.14" cy="567.05" r="1.35" fill="#d9692a"/>
<circle cx="196.26" cy="554.02" r="1.35" fill="#d9692a"/>
<circle cx="198.39" cy="562.07" r="1.35" fill="#d9692a"/>
<circle cx="200.52" cy="545.29" r="1.35" fill="#d9692a"/>
<circle cx="202.64" cy="564.91" r="1.35" fill="#d9692a"/>
<circle cx="204.77" cy="566.19" r="1.35" fill="#d9692a"/>
<circle cx="206.90" cy="563.30" r="1.35" fill="#d9692a"/>
<circle cx="209.03" cy="558.78" r="1.35" fill="#d9692a"/>
<circle cx="211.15" cy="562.18" r="1.35" fill="#d9692a"/>
<circle cx="213.28" cy="577.10" r="1.35" fill="#d9692a"/>
<circle cx="215.41" cy="562.98" r="1.35" fill="#d9692a"/>
<circle cx="217.53" cy="565.39" r="1.35" fill="#d9692a"/>
<circle cx="219.66" cy="556.05" r="1.35" fill="#d9692a"/>
<circle cx="221.79" cy="560.09" r="1.35" fill="#d9692a"/>
<circle cx="223.91" cy="552.36" r="1.35" fill="#d9692a"/>
<circle cx="226.04" cy="554.45" r="1.35" fill="#d9692a"/>
<circle cx="228.17" cy="544.95" r="1.35" fill="#d9692a"/>
<circle cx="230.30" cy="562.18" r="1.35" fill="#d9692a"/>
<circle cx="232.42" cy="556.86" r="1.35" fill="#d9692a"/>
<circle cx="234.55" cy="559.28" r="1.35" fill="#d9692a"/>
<circle cx="236.68" cy="553.32" r="1.35" fill="#d9692a"/>
<rect x="17.80" y="431.80" width="229.30" height="178.50" fill="none" stroke="#b4b4b4" stroke-width="1.2"/>
<line x1="16.30" y1="610.30" x2="17.80" y2="610.30" stroke="#888" stroke-width="0.8"/>
<text x="15.00" y="613.50" font-size="9" text-anchor="end" font-family="Liberation Sans, sans-serif" stroke="#111" stroke-width="0.2" fill="#111">0</text>
<line x1="16.30" y1="574.60" x2="17.80" y2="574.60" stroke="#888" stroke-width="0.8"/>
<text x="15.00" y="577.80" font-size="9" text-anchor="end" font-family="Liberation Sans, sans-serif" stroke="#111" stroke-width="0.2" fill="#111">20</text>
<line x1="16.30" y1="538.90" x2="17.80" y2="538.90" stroke="#888" stroke-width="0.8"/>
<text x="15.00" y="542.10" font-size="9" text-anchor="end" font-family="Liberation Sans, sans-serif" stroke="#111" stroke-width="0.2" fill="#111">40</text>
<line x1="16.30" y1="503.20" x2="17.80" y2="503.20" stroke="#888" stroke-width="0.8"/>
<text x="15.00" y="506.40" font-size="9" text-anchor="end" font-family="Liberation Sans, sans-serif" stroke="#111" stroke-width="0.2" fill="#111">60</text>
<line x1="16.30" y1="467.50" x2="17.80" y2="467.50" stroke="#888" stroke-width="0.8"/>
<text x="15.00" y="470.70" font-size="9" text-anchor="end" font-family="Liberation Sans, sans-serif" stroke="#111" stroke-width="0.2" fill="#111">80</text>
<line x1="16.30" y1="431.80" x2="17.80" y2="431.80" stroke="#888" stroke-width="0.8"/>
<text x="15.00" y="435.00" font-size="9" text-anchor="end" font-family="Liberation Sans, sans-serif" stroke="#111" stroke-width="0.2" fill="#111">100</text>
<line x1="28.22" y1="610.30" x2="28.22" y2="611.80" stroke="#888" stroke-width="0.8"/>
<text x="28.22" y="619.10" font-size="9" text-anchor="middle" font-family="Liberation Sans, sans-serif" stroke="#111" stroke-width="0.2" fill="#111">0</text>
<line x1="70.76" y1="610.30" x2="70.76" y2="611.80" stroke="#888" stroke-width="0.8"/>
<text x="70.76" y="619.10" font-size="9" text-anchor="middle" font-family="Liberation Sans, sans-serif" stroke="#111" stroke-width="0.2" fill="#111">20</text>
<line x1="113.31" y1="610.30" x2="113.31" y2="611.80" stroke="#888" stroke-width="0.8"/>
<text x="113.31" y="619.10" font-size="9" text-anchor="middle" font-family="Liberation Sans, sans-serif" stroke="#111" stroke-width="0.2" fill="#111">40</text>
<line x1="155.85" y1="610.30" x2="155.85" y2="611.80" stroke="#888" stroke-width="0.8"/>
<text x="155.85" y="619.10" font-size="9" text-anchor="middle" font-family="Liberation Sans, sans-serif" stroke="#111" stroke-width="0.2" fill="#111">60</text>
<line x1="198.39" y1="610.30" x2="198.39" y2="611.80" stroke="#888" stroke-width="0.8"/>
<text x="198.39" y="619.10" font-size="9" text-anchor="middle" font-family="Liberation Sans, sans-serif" stroke="#111" stroke-width="0.2" fill="#111">80</text>
<line x1="240.93" y1="610.30" x2="240.93" y2="611.80" stroke="#888" stroke-width="0.8"/>
<text x="240.93" y="619.10" font-size="9" text-anchor="middle" font-family="Liberation Sans, sans-serif" stroke="#111" stroke-width="0.2" fill="#111">100</text>
<text x="69.70" y="631.20" font-size="12.8" font-family="Liberation Sans, sans-serif" stroke="#111" stroke-width="0.2" fill="#111" textLength="124.6" lengthAdjust="spacingAndGlyphs">Disease model gene</text>
<rect x="23.80" y="437.70" width="187.50" height="38.10" rx="2" fill="#fff" fill-opacity="0.8" stroke="#e2e2e2" stroke-width="0.9"/>
<circle cx="41.30" cy="447.00" r="1.05" fill="#1b5690"/>
<circle cx="41.30" cy="464.50" r="1.05" fill="#d9692a"/>
<text x="64.00" y="451.50" font-size="12.3" font-family="Liberation Sans, sans-serif" stroke="#111" stroke-width="0.1" fill="#111" textLength="141.5" lengthAdjust="spacingAndGlyphs">% DDD overlap with FT</text>
<text x="64.00" y="468.40" font-size="12.3" font-family="Liberation Sans, sans-serif" stroke="#111" stroke-width="0.1" fill="#111" textLength="80.0" lengthAdjust="spacingAndGlyphs">DDD, FT RBO</text>
<circle cx="299.42" cy="608.80" r="1.35" fill="#1b5690"/>
<circle cx="301.55" cy="606.64" r="1.35" fill="#1b5690"/>
<circle cx="303.68" cy="601.11" r="1.35" fill="#1b5690"/>
<circle cx="305.80" cy="600.39" r="1.35" fill="#1b5690"/>
<circle cx="307.93" cy="597.98" r="1.35" fill="#1b5690"/>
<circle cx="310.06" cy="597.25" r="1.35" fill="#1b5690"/>
<circle cx="312.19" cy="596.31" r="1.35" fill="#1b5690"/>
<circle cx="314.31" cy="595.34" r="1.35" fill="#1b5690"/>
<circle cx="316.44" cy="594.63" r="1.35" fill="#1b5690"/>
<circle cx="318.57" cy="594.40" r="1.35" fill="#1b5690"/>
<circle cx="320.69" cy="594.40" r="1.35" fill="#1b5690"/>
<circle cx="322.82" cy="594.00" r="1.35" fill="#1b5690"/>
<circle cx="324.95" cy="592.97" r="1.35" fill="#1b5690"/>
<circle cx="327.07" cy="592.72" r="1.35" fill="#1b5690"/>
<circle cx="329.20" cy="592.08" r="1.35" fill="#1b5690"/>
<circle cx="331.33" cy="591.81" r="1.35" fill="#1b5690"/>
<circle cx="333.46" cy="591.41" r="1.35" fill="#1b5690"/>
<circle cx="335.58" cy="591.04" r="1.35" fill="#1b5690"/>
<circle cx="337.71" cy="590.52" r="1.35" fill="#1b5690"/>
<circle cx="339.84" cy="590.13" r="1.35" fill="#1b5690"/>
<circle cx="341.96" cy="590.13" r="1.35" fill="#1b5690"/>
<circle cx="344.09" cy="589.88" r="1.35" fill="#1b5690"/>
<circle cx="346.22" cy="589.49" r="1.35" fill="#1b5690"/>
<circle cx="348.35" cy="589.22" r="1.35" fill="#1b5690"/>
<circle cx="350.47" cy="589.22" r="1.35" fill="#1b5690"/>
<circle cx="352.60" cy="589.22" r="1.35" fill="#1b5690"/>
<circle cx="354.73" cy="588.70" r="1.35" fill="#1b5690"/>
<circle cx="356.85" cy="588.18" r="1.35" fill="#1b5690"/>
<circle cx="358.98" cy="588.02" r="1.35" fill="#1b5690"/>
<circle cx="361.11" cy="587.86" r="1.35" fill="#1b5690"/>
<circle cx="363.24" cy="587.70" r="1.35" fill="#1b5690"/>
<circle cx="365.36" cy="587.54" r="1.35" fill="#1b5690"/>
<circle cx="367.49" cy="587.24" r="1.35" fill="#1b5690"/>
<circle cx="369.62" cy="586.93" r="1.35" fill="#1b5690"/>
<circle cx="371.74" cy="586.63" r="1.35" fill="#1b5690"/>
<circle cx="373.87" cy="586.51" r="1.35" fill="#1b5690"/>
<circle cx="376.00" cy="586.38" r="1.35" fill="#1b5690"/>
<circle cx="378.12" cy="586.26" r="1.35" fill="#1b5690"/>
<circle cx="380.25" cy="586.11" r="1.35" fill="#1b5690"/>
<circle cx="382.38" cy="585.99" r="1.35" fill="#1b5690"/>
<circle cx="384.51" cy="585.86" r="1.35" fill="#1b5690"/>
<circle cx="386.63" cy="585.56" r="1.35" fill="#1b5690"/>
<circle cx="388.76" cy="585.26" r="1.35" fill="#1b5690"/>
<circle cx="390.89" cy="584.95" r="1.35" fill="#1b5690"/>
<circle cx="393.01" cy="584.51" r="1.35" fill="#1b5690"/>
<circle cx="395.14" cy="584.06" r="1.35" fill="#1b5690"/>
<circle cx="397.27" cy="583.70" r="1.35" fill="#1b5690"/>
<circle cx="399.40" cy="583.36" r="1.35" fill="#1b5690"/>
<circle cx="401.52" cy="583.03" r="1.35" fill="#1b5690"/>
<circle cx="403.65" cy="581.72" r="1.35" fill="#1b5690"/>
<circle cx="405.78" cy="581.60" r="1.35" fill="#1b5690"/>
<circle cx="407.90" cy="581.47" r="1.35" fill="#1b5690"/>
<circle cx="410.03" cy="581.28" r="1.35" fill="#1b5690"/>
<circle cx="412.16" cy="581.08" r="1.35" fill="#1b5690"/>
<circle cx="414.29" cy="580.70" r="1.35" fill="#1b5690"/>
<circle cx="416.41" cy="580.35" r="1.35" fill="#1b5690"/>
<circle cx="418.54" cy="579.56" r="1.35" fill="#1b5690"/>
<circle cx="420.67" cy="578.79" r="1.35" fill="#1b5690"/>
<circle cx="422.79" cy="578.01" r="1.35" fill="#1b5690"/>
<circle cx="424.92" cy="577.94" r="1.35" fill="#1b5690"/>
<circle cx="427.05" cy="577.85" r="1.35" fill="#1b5690"/>
<circle cx="429.18" cy="577.76" r="1.35" fill="#1b5690"/>
<circle cx="431.30" cy="577.49" r="1.35" fill="#1b5690"/>
<circle cx="433.43" cy="577.24" r="1.35" fill="#1b5690"/>
<circle cx="435.56" cy="576.97" r="1.35" fill="#1b5690"/>
<circle cx="437.68" cy="576.81" r="1.35" fill="#1b5690"/>
<circle cx="439.81" cy="576.63" r="1.35" fill="#1b5690"/>
<circle cx="441.94" cy="576.47" r="1.35" fill="#1b5690"/>
<circle cx="444.06" cy="575.90" r="1.35" fill="#1b5690"/>
<circle cx="446.19" cy="575.35" r="1.35" fill="#1b5690"/>
<circle cx="448.32" cy="574.78" r="1.35" fill="#1b5690"/>
<circle cx="450.45" cy="574.23" r="1.35" fill="#1b5690"/>
<circle cx="452.57" cy="573.67" r="1.35" fill="#1b5690"/>
<circle cx="454.70" cy="573.10" r="1.35" fill="#1b5690"/>
<circle cx="456.83" cy="572.49" r="1.35" fill="#1b5690"/>
<circle cx="458.95" cy="571.90" r="1.35" fill="#1b5690"/>
<circle cx="461.08" cy="571.30" r="1.35" fill="#1b5690"/>
<circle cx="463.21" cy="570.94" r="1.35" fill="#1b5690"/>
<circle cx="465.34" cy="570.26" r="1.35" fill="#1b5690"/>
<circle cx="467.46" cy="570.17" r="1.35" fill="#1b5690"/>
<circle cx="469.59" cy="569.62" r="1.35" fill="#1b5690"/>
<circle cx="471.72" cy="569.71" r="1.35" fill="#1b5690"/>
<circle cx="473.84" cy="568.57" r="1.35" fill="#1b5690"/>
<circle cx="475.97" cy="567.62" r="1.35" fill="#1b5690"/>
<circle cx="478.10" cy="567.16" r="1.35" fill="#1b5690"/>
<circle cx="480.23" cy="566.67" r="1.35" fill="#1b5690"/>
<circle cx="482.35" cy="566.21" r="1.35" fill="#1b5690"/>
<circle cx="484.48" cy="565.73" r="1.35" fill="#1b5690"/>
<circle cx="486.61" cy="564.32" r="1.35" fill="#1b5690"/>
<circle cx="488.73" cy="563.94" r="1.35" fill="#1b5690"/>
<circle cx="490.86" cy="564.03" r="1.35" fill="#1b5690"/>
<circle cx="492.99" cy="562.96" r="1.35" fill="#1b5690"/>
<circle cx="495.11" cy="561.87" r="1.35" fill="#1b5690"/>
<circle cx="497.24" cy="557.89" r="1.35" fill="#1b5690"/>
<circle cx="499.37" cy="555.29" r="1.35" fill="#1b5690"/>
<circle cx="501.50" cy="553.70" r="1.35" fill="#1b5690"/>
<circle cx="503.62" cy="552.02" r="1.35" fill="#1b5690"/>
<circle cx="505.75" cy="526.10" r="1.35" fill="#1b5690"/>
<circle cx="507.88" cy="496.58" r="1.35" fill="#1b5690"/>
<circle cx="299.42" cy="608.80" r="1.35" fill="#d9692a"/>
<circle cx="301.55" cy="609.37" r="1.35" fill="#d9692a"/>
<circle cx="303.68" cy="606.87" r="1.35" fill="#d9692a"/>
<circle cx="305.80" cy="596.59" r="1.35" fill="#d9692a"/>
<circle cx="307.93" cy="577.58" r="1.35" fill="#d9692a"/>
<circle cx="310.06" cy="577.21" r="1.35" fill="#d9692a"/>
<circle cx="312.19" cy="592.97" r="1.35" fill="#d9692a"/>
<circle cx="314.31" cy="587.81" r="1.35" fill="#d9692a"/>
<circle cx="316.44" cy="585.86" r="1.35" fill="#d9692a"/>
<circle cx="318.57" cy="591.04" r="1.35" fill="#d9692a"/>
<circle cx="320.69" cy="578.88" r="1.35" fill="#d9692a"/>
<circle cx="322.82" cy="575.65" r="1.35" fill="#d9692a"/>
<circle cx="324.95" cy="572.03" r="1.35" fill="#d9692a"/>
<circle cx="327.07" cy="592.97" r="1.35" fill="#d9692a"/>
<circle cx="329.20" cy="591.04" r="1.35" fill="#d9692a"/>
<circle cx="331.33" cy="565.57" r="1.35" fill="#d9692a"/>
<circle cx="333.46" cy="560.12" r="1.35" fill="#d9692a"/>
<circle cx="335.58" cy="563.62" r="1.35" fill="#d9692a"/>
<circle cx="337.71" cy="556.89" r="1.35" fill="#d9692a"/>
<circle cx="339.84" cy="571.51" r="1.35" fill="#d9692a"/>
<circle cx="341.96" cy="589.74" r="1.35" fill="#d9692a"/>
<circle cx="344.09" cy="575.14" r="1.35" fill="#d9692a"/>
<circle cx="346.22" cy="570.99" r="1.35" fill="#d9692a"/>
<circle cx="348.35" cy="575.51" r="1.35" fill="#d9692a"/>
<circle cx="350.47" cy="570.60" r="1.35" fill="#d9692a"/>
<circle cx="352.60" cy="581.47" r="1.35" fill="#d9692a"/>
<circle cx="354.73" cy="566.85" r="1.35" fill="#d9692a"/>
<circle cx="356.85" cy="564.91" r="1.35" fill="#d9692a"/>
<circle cx="358.98" cy="554.57" r="1.35" fill="#d9692a"/>
<circle cx="361.11" cy="597.50" r="1.35" fill="#d9692a"/>
<circle cx="363.24" cy="576.55" r="1.35" fill="#d9692a"/>
<circle cx="365.36" cy="583.67" r="1.35" fill="#d9692a"/>
<circle cx="367.49" cy="575.51" r="1.35" fill="#d9692a"/>
<circle cx="369.62" cy="561.94" r="1.35" fill="#d9692a"/>
<circle cx="371.74" cy="585.60" r="1.35" fill="#d9692a"/>
<circle cx="373.87" cy="561.03" r="1.35" fill="#d9692a"/>
<circle cx="376.00" cy="564.91" r="1.35" fill="#d9692a"/>
<circle cx="378.12" cy="554.05" r="1.35" fill="#d9692a"/>
<circle cx="380.25" cy="574.74" r="1.35" fill="#d9692a"/>
<circle cx="382.38" cy="582.24" r="1.35" fill="#d9692a"/>
<circle cx="384.51" cy="559.75" r="1.35" fill="#d9692a"/>
<circle cx="386.63" cy="557.80" r="1.35" fill="#d9692a"/>
<circle cx="388.76" cy="585.86" r="1.35" fill="#d9692a"/>
<circle cx="390.89" cy="563.62" r="1.35" fill="#d9692a"/>
<circle cx="393.01" cy="580.69" r="1.35" fill="#d9692a"/>
<circle cx="395.14" cy="572.03" r="1.35" fill="#d9692a"/>
<circle cx="397.27" cy="572.03" r="1.35" fill="#d9692a"/>
<circle cx="399.40" cy="566.73" r="1.35" fill="#d9692a"/>
<circle cx="401.52" cy="584.06" r="1.35" fill="#d9692a"/>
<circle cx="403.65" cy="570.48" r="1.35" fill="#d9692a"/>
<circle cx="405.78" cy="568.53" r="1.35" fill="#d9692a"/>
<circle cx="407.90" cy="573.06" r="1.35" fill="#d9692a"/>
<circle cx="410.03" cy="560.64" r="1.35" fill="#d9692a"/>
<circle cx="412.16" cy="571.82" r="1.35" fill="#d9692a"/>
<circle cx="414.29" cy="573.89" r="1.35" fill="#d9692a"/>
<circle cx="416.41" cy="575.17" r="1.35" fill="#d9692a"/>
<circle cx="418.54" cy="545.04" r="1.35" fill="#d9692a"/>
<circle cx="420.67" cy="562.10" r="1.35" fill="#d9692a"/>
<circle cx="422.79" cy="565.35" r="1.35" fill="#d9692a"/>
<circle cx="424.92" cy="586.81" r="1.35" fill="#d9692a"/>
<circle cx="427.05" cy="553.45" r="1.35" fill="#d9692a"/>
<circle cx="429.18" cy="560.18" r="1.35" fill="#d9692a"/>
<circle cx="431.30" cy="580.99" r="1.35" fill="#d9692a"/>
<circle cx="433.43" cy="578.28" r="1.35" fill="#d9692a"/>
<circle cx="435.56" cy="589.92" r="1.35" fill="#d9692a"/>
<circle cx="437.68" cy="558.87" r="1.35" fill="#d9692a"/>
<circle cx="439.81" cy="557.32" r="1.35" fill="#d9692a"/>
<circle cx="441.94" cy="572.58" r="1.35" fill="#d9692a"/>
<circle cx="444.06" cy="554.48" r="1.35" fill="#d9692a"/>
<circle cx="446.19" cy="552.41" r="1.35" fill="#d9692a"/>
<circle cx="448.32" cy="558.62" r="1.35" fill="#d9692a"/>
<circle cx="450.45" cy="560.18" r="1.35" fill="#d9692a"/>
<circle cx="452.57" cy="562.25" r="1.35" fill="#d9692a"/>
<circle cx="454.70" cy="556.04" r="1.35" fill="#d9692a"/>
<circle cx="456.83" cy="571.30" r="1.35" fill="#d9692a"/>
<circle cx="458.95" cy="578.40" r="1.35" fill="#d9692a"/>
<circle cx="461.08" cy="576.72" r="1.35" fill="#d9692a"/>
<circle cx="463.21" cy="557.04" r="1.35" fill="#d9692a"/>
<circle cx="465.34" cy="556.95" r="1.35" fill="#d9692a"/>
<circle cx="467.46" cy="554.86" r="1.35" fill="#d9692a"/>
<circle cx="469.59" cy="562.23" r="1.35" fill="#d9692a"/>
<circle cx="471.72" cy="559.30" r="1.35" fill="#d9692a"/>
<circle cx="473.84" cy="573.30" r="1.35" fill="#d9692a"/>
<circle cx="475.97" cy="564.69" r="1.35" fill="#d9692a"/>
<circle cx="478.10" cy="545.59" r="1.35" fill="#d9692a"/>
<circle cx="480.23" cy="558.93" r="1.35" fill="#d9692a"/>
<circle cx="482.35" cy="579.44" r="1.35" fill="#d9692a"/>
<circle cx="484.48" cy="550.79" r="1.35" fill="#d9692a"/>
<circle cx="486.61" cy="571.12" r="1.35" fill="#d9692a"/>
<circle cx="488.73" cy="556.27" r="1.35" fill="#d9692a"/>
<circle cx="490.86" cy="566.21" r="1.35" fill="#d9692a"/>
<circle cx="492.99" cy="562.89" r="1.35" fill="#d9692a"/>
<circle cx="495.11" cy="563.84" r="1.35" fill="#d9692a"/>
<circle cx="497.24" cy="554.39" r="1.35" fill="#d9692a"/>
<circle cx="499.37" cy="546.74" r="1.35" fill="#d9692a"/>
<circle cx="501.50" cy="548.18" r="1.35" fill="#d9692a"/>
<circle cx="503.62" cy="555.86" r="1.35" fill="#d9692a"/>
<circle cx="505.75" cy="551.79" r="1.35" fill="#d9692a"/>
<circle cx="507.88" cy="529.74" r="1.35" fill="#d9692a"/>
<rect x="289.00" y="431.80" width="229.30" height="178.50" fill="none" stroke="#b4b4b4" stroke-width="1.2"/>
<line x1="287.50" y1="610.30" x2="289.00" y2="610.30" stroke="#888" stroke-width="0.8"/>
<text x="286.20" y="613.50" font-size="9" text-anchor="end" font-family="Liberation Sans, sans-serif" stroke="#111" stroke-width="0.2" fill="#111">0</text>
<line x1="287.50" y1="574.60" x2="289.00" y2="574.60" stroke="#888" stroke-width="0.8"/>
<text x="286.20" y="577.80" font-size="9" text-anchor="end" font-family="Liberation Sans, sans-serif" stroke="#111" stroke-width="0.2" fill="#111">20</text>
<line x1="287.50" y1="538.90" x2="289.00" y2="538.90" stroke="#888" stroke-width="0.8"/>
<text x="286.20" y="542.10" font-size="9" text-anchor="end" font-family="Liberation Sans, sans-serif" stroke="#111" stroke-width="0.2" fill="#111">40</text>
<line x1="287.50" y1="503.20" x2="289.00" y2="503.20" stroke="#888" stroke-width="0.8"/>
<text x="286.20" y="506.40" font-size="9" text-anchor="end" font-family="Liberation Sans, sans-serif" stroke="#111" stroke-width="0.2" fill="#111">60</text>
<line x1="287.50" y1="467.50" x2="289.00" y2="467.50" stroke="#888" stroke-width="0.8"/>
<text x="286.20" y="470.70" font-size="9" text-anchor="end" font-family="Liberation Sans, sans-serif" stroke="#111" stroke-width="0.2" fill="#111">80</text>
<line x1="287.50" y1="431.80" x2="289.00" y2="431.80" stroke="#888" stroke-width="0.8"/>
<text x="286.20" y="435.00" font-size="9" text-anchor="end" font-family="Liberation Sans, sans-serif" stroke="#111" stroke-width="0.2" fill="#111">100</text>
<line x1="299.42" y1="610.30" x2="299.42" y2="611.80" stroke="#888" stroke-width="0.8"/>
<text x="299.42" y="619.10" font-size="9" text-anchor="middle" font-family="Liberation Sans, sans-serif" stroke="#111" stroke-width="0.2" fill="#111">0</text>
<line x1="341.96" y1="610.30" x2="341.96" y2="611.80" stroke="#888" stroke-width="0.8"/>
<text x="341.96" y="619.10" font-size="9" text-anchor="middle" font-family="Liberation Sans, sans-serif" stroke="#111" stroke-width="0.2" fill="#111">20</text>
<line x1="384.51" y1="610.30" x2="384.51" y2="611.80" stroke="#888" stroke-width="0.8"/>
<text x="384.51" y="619.10" font-size="9" text-anchor="middle" font-family="Liberation Sans, sans-serif" stroke="#111" stroke-width="0.2" fill="#111">40</text>
<line x1="427.05" y1="610.30" x2="427.05" y2="611.80" stroke="#888" stroke-width="0.8"/>
<text x="427.05" y="619.10" font-size="9" text-anchor="middle" font-family="Liberation Sans, sans-serif" stroke="#111" stroke-width="0.2" fill="#111">60</text>
<line x1="469.59" y1="610.30" x2="469.59" y2="611.80" stroke="#888" stroke-width="0.8"/>
<text x="469.59" y="619.10" font-size="9" text-anchor="middle" font-family="Liberation Sans, sans-serif" stroke="#111" stroke-width="0.2" fill="#111">80</text>
<line x1="512.13" y1="610.30" x2="512.13" y2="611.80" stroke="#888" stroke-width="0.8"/>
<text x="512.13" y="619.10" font-size="9" text-anchor="middle" font-family="Liberation Sans, sans-serif" stroke="#111" stroke-width="0.2" fill="#111">100</text>
<text x="340.90" y="631.20" font-size="12.8" font-family="Liberation Sans, sans-serif" stroke="#111" stroke-width="0.2" fill="#111" textLength="124.6" lengthAdjust="spacingAndGlyphs">Disease model gene</text>
<rect x="295.00" y="437.70" width="187.00" height="38.10" rx="2" fill="#fff" fill-opacity="0.8" stroke="#e2e2e2" stroke-width="0.9"/>
<circle cx="312.50" cy="447.00" r="1.05" fill="#1b5690"/>
<circle cx="312.50" cy="464.50" r="1.05" fill="#d9692a"/>
<text x="335.20" y="451.50" font-size="12.3" font-family="Liberation Sans, sans-serif" stroke="#111" stroke-width="0.1" fill="#111" textLength="141.5" lengthAdjust="spacingAndGlyphs">% FT overlap with DDD</text>
<text x="335.20" y="468.40" font-size="12.3" font-family="Liberation Sans, sans-serif" stroke="#111" stroke-width="0.1" fill="#111" textLength="80.0" lengthAdjust="spacingAndGlyphs">FT, DDD RBO</text>
</svg>
</body></html>
